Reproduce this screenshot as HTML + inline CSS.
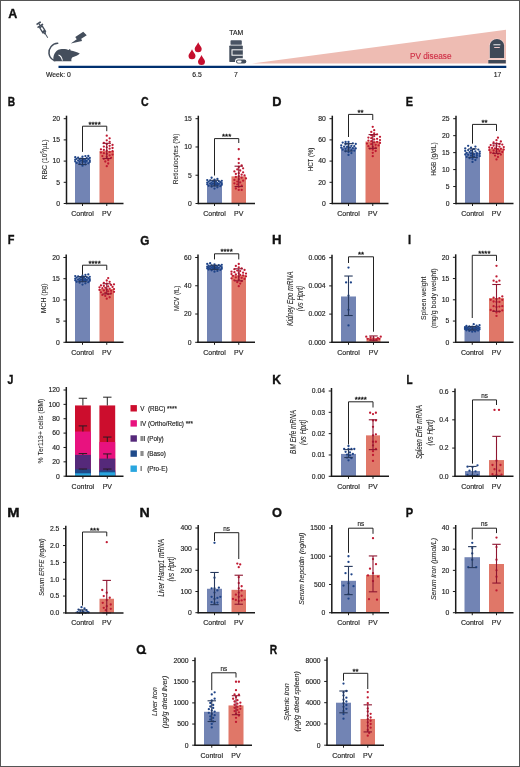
<!DOCTYPE html>
<html><head><meta charset="utf-8"><style>
html,body{margin:0;padding:0;background:#fff;}
body{width:520px;height:767px;overflow:hidden;font-family:"Liberation Sans",sans-serif;}
svg{display:block;will-change:transform;}
</style></head><body>
<svg width="520" height="767" viewBox="0 0 520 767" font-family="Liberation Sans, sans-serif">
<rect width="520" height="767" fill="#fff"/>
<text transform="translate(8.20,18.30) scale(1.000,1)" font-size="12.5" font-weight="bold" fill="#111" stroke="#111" stroke-width="0.35">A</text>
<text transform="translate(7.85,105.60) scale(0.818,1)" font-size="12.5" font-weight="bold" fill="#111" stroke="#111" stroke-width="0.35">B</text>
<text transform="translate(140.98,105.60) scale(0.848,1)" font-size="12.5" font-weight="bold" fill="#111" stroke="#111" stroke-width="0.35">C</text>
<text transform="translate(272.18,105.50) scale(1.026,1)" font-size="12.5" font-weight="bold" fill="#111" stroke="#111" stroke-width="0.35">D</text>
<text transform="translate(405.80,105.50) scale(0.871,1)" font-size="12.5" font-weight="bold" fill="#111" stroke="#111" stroke-width="0.35">E</text>
<text transform="translate(7.80,244.40) scale(0.875,1)" font-size="12.5" font-weight="bold" fill="#111" stroke="#111" stroke-width="0.35">F</text>
<text transform="translate(140.33,244.50) scale(0.940,1)" font-size="12.5" font-weight="bold" fill="#111" stroke="#111" stroke-width="0.35">G</text>
<text transform="translate(272.06,244.40) scale(1.054,1)" font-size="12.5" font-weight="bold" fill="#111" stroke="#111" stroke-width="0.35">H</text>
<text transform="translate(407.89,244.40) scale(0.889,1)" font-size="12.5" font-weight="bold" fill="#111" stroke="#111" stroke-width="0.35">I</text>
<text transform="translate(7.53,383.60) scale(0.847,1)" font-size="12.5" font-weight="bold" fill="#111" stroke="#111" stroke-width="0.35">J</text>
<text transform="translate(272.22,383.60) scale(0.975,1)" font-size="12.5" font-weight="bold" fill="#111" stroke="#111" stroke-width="0.35">K</text>
<text transform="translate(406.56,383.60) scale(0.800,1)" font-size="12.5" font-weight="bold" fill="#111" stroke="#111" stroke-width="0.35">L</text>
<text transform="translate(7.25,516.80) scale(1.182,1)" font-size="12.5" font-weight="bold" fill="#111" stroke="#111" stroke-width="0.35">M</text>
<text transform="translate(139.49,516.60) scale(1.135,1)" font-size="12.5" font-weight="bold" fill="#111" stroke="#111" stroke-width="0.35">N</text>
<text transform="translate(271.99,516.80) scale(1.023,1)" font-size="12.5" font-weight="bold" fill="#111" stroke="#111" stroke-width="0.35">O</text>
<text transform="translate(405.69,516.60) scale(0.887,1)" font-size="12.5" font-weight="bold" fill="#111" stroke="#111" stroke-width="0.35">P</text>
<path d="M141.60,652.70 L146.30,653.50" stroke="#111" stroke-width="1.7"/>
<text transform="translate(136.22,653.80) scale(0.966,1)" font-size="12.5" font-weight="bold" fill="#111" stroke="#111" stroke-width="0.35">O</text>
<text transform="translate(269.84,653.80) scale(0.823,1)" font-size="12.5" font-weight="bold" fill="#111" stroke="#111" stroke-width="0.35">R</text>
<polygon points="252,63.6 506,29.8 506,63.6" fill="#eebcb3"/>
<text x="410.00" y="58.60" font-size="8.5" text-anchor="start" fill="#cf2e45" stroke="#cf2e45" stroke-width="0.15" textLength="41.5" lengthAdjust="spacingAndGlyphs" >PV disease</text>
<line x1="58.5" y1="66.9" x2="506.3" y2="66.9" stroke="#003070" stroke-width="2.1"/>
<text x="58.30" y="77.30" font-size="6.8" text-anchor="middle" fill="#222" stroke="#222" stroke-width="0.15" >Week: 0</text>
<text x="197.00" y="77.20" font-size="6.8" text-anchor="middle" fill="#222" stroke="#222" stroke-width="0.15" >6.5</text>
<text x="235.80" y="77.20" font-size="6.8" text-anchor="middle" fill="#222" stroke="#222" stroke-width="0.15" >7</text>
<text x="497.50" y="77.20" font-size="6.8" text-anchor="middle" fill="#222" stroke="#222" stroke-width="0.15" >17</text>
<text x="236.20" y="35.00" font-size="6.8" text-anchor="middle" fill="#222" stroke="#222" stroke-width="0.15" >TAM</text>
<path d="M198.2,42.3 C199.0,44.8 201.7,46.699999999999996 201.7,48.8 A3.5,3.5 0 0 1 194.7,48.8 C194.7,46.699999999999996 197.39999999999998,44.8 198.2,42.3 Z" fill="#c50f2e"/>
<path d="M192,49.2 C192.8,51.7 195.5,53.6 195.5,55.7 A3.5,3.5 0 0 1 188.5,55.7 C188.5,53.6 191.2,51.7 192,49.2 Z" fill="#c50f2e"/>
<path d="M201.5,55 C202.3,57.5 205.0,59.4 205.0,61.5 A3.5,3.5 0 0 1 198.0,61.5 C198.0,59.4 200.7,57.5 201.5,55 Z" fill="#c50f2e"/>
<rect x="230.5" y="40.2" width="11.3" height="4.6" rx="0.9" fill="#4a5464"/>
<rect x="229.3" y="45.4" width="13.5" height="16.7" rx="0.9" fill="#444e5c"/>
<rect x="231.5" y="49.3" width="11.3" height="6.4" fill="#fff"/>
<rect x="232.5" y="50.3" width="10.3" height="4.4" fill="#444e5c"/>
<rect x="235" y="58.3" width="12.4" height="6.3" rx="3.15" fill="#fff"/>
<rect x="236" y="59.6" width="10.3" height="4" rx="2" fill="#444e5c"/>
<rect x="237" y="60.5" width="4.6" height="2.2" rx="1.1" fill="#fff"/>
<path d="M489.3,58.6 V45.5 A7.65,7 0 0 1 504.6,45.5 V58.6 Z" fill="#f6dcd8"/>
<rect x="487.9" y="59.5" width="18.3" height="4.3" fill="#f6dcd8"/>
<path d="M489.8,58 V45.5 A7.15,6.5 0 0 1 504.1,45.5 V58 Z" fill="#3f4957"/>
<rect x="488.3" y="60" width="17.5" height="3.4" fill="#3f4957"/>
<rect x="493.4" y="44.2" width="7" height="1.1" fill="#e0e0e4"/>
<rect x="494.2" y="47" width="5.6" height="1" fill="#f0c8c8"/>
<g transform="translate(42.95,30.1) rotate(-32)" fill="#444e5c"><rect x="-2.5" y="-9" width="5" height="1.7" rx="0.3"/><rect x="-0.6" y="-7.5" width="1.2" height="1.9"/><rect x="-3.25" y="-5.8" width="6.5" height="1.6" rx="0.3"/><path d="M-2.2,-4.3 h4.4 v7.3 h-4.4 z M-0.8,-3.1 v3.6 h1.6 v-3.6 z" fill-rule="evenodd"/><path d="M-1.4,2.9 h2.8 l-0.6,1.7 h-1.6 z"/><rect x="-0.45" y="4.4" width="0.9" height="4.6"/></g>
<path d="M83.25,31.75 L86.75,35.25 L81.25,38.75 L82,41 L70.75,43.5 L76.75,39.25 L75.25,37 Z" fill="#444e5c"/>
<path d="M57.7,43.3 C52,43.6 48.5,48.5 49,53.5 C49.4,57 51.5,59.5 54.8,60.6" fill="none" stroke="#444e5c" stroke-width="1.55" stroke-linecap="round"/>
<path d="M53.6,61.2 C52.6,56 54.8,50.4 60.2,49.3 C64,48.6 67,49.4 69,50 L69.3,48.9 L70.4,49.4 L70.6,50.5 C74,51.2 77,52.3 79.8,53.5 C78,55.3 75.5,56.3 72.5,57.2 C71.5,58.3 71,59.5 71.5,61.2 Z" fill="#444e5c"/>
<path d="M58.6,54.4 C61,55 62.4,57.3 62.9,60.6 L62,60.8 C61.5,58 60.3,56.2 58.4,55.4 Z" fill="#fff"/>
<rect x="75" y="161.52" width="15" height="41.98" fill="#7284b4"/>
<rect x="99.5" y="150.92" width="14.5" height="52.58" fill="#e07768"/>
<circle cx="82.50" cy="165.67" r="1.15" fill="#1f4488"/>
<circle cx="85.40" cy="164.44" r="1.15" fill="#1f4488"/>
<circle cx="79.60" cy="163.77" r="1.15" fill="#1f4488"/>
<circle cx="88.30" cy="163.28" r="1.15" fill="#1f4488"/>
<circle cx="76.70" cy="162.89" r="1.15" fill="#1f4488"/>
<circle cx="82.50" cy="162.55" r="1.15" fill="#1f4488"/>
<circle cx="85.40" cy="162.25" r="1.15" fill="#1f4488"/>
<circle cx="89.75" cy="161.97" r="1.15" fill="#1f4488"/>
<circle cx="79.60" cy="161.71" r="1.15" fill="#1f4488"/>
<circle cx="75.25" cy="161.47" r="1.15" fill="#1f4488"/>
<circle cx="83.95" cy="161.23" r="1.15" fill="#1f4488"/>
<circle cx="86.85" cy="161.01" r="1.15" fill="#1f4488"/>
<circle cx="81.05" cy="160.79" r="1.15" fill="#1f4488"/>
<circle cx="78.15" cy="160.57" r="1.15" fill="#1f4488"/>
<circle cx="89.75" cy="160.36" r="1.15" fill="#1f4488"/>
<circle cx="85.40" cy="160.15" r="1.15" fill="#1f4488"/>
<circle cx="82.50" cy="159.93" r="1.15" fill="#1f4488"/>
<circle cx="75.25" cy="159.72" r="1.15" fill="#1f4488"/>
<circle cx="79.60" cy="159.50" r="1.15" fill="#1f4488"/>
<circle cx="88.30" cy="159.27" r="1.15" fill="#1f4488"/>
<circle cx="83.95" cy="159.04" r="1.15" fill="#1f4488"/>
<circle cx="76.70" cy="158.79" r="1.15" fill="#1f4488"/>
<circle cx="81.05" cy="158.54" r="1.15" fill="#1f4488"/>
<circle cx="86.85" cy="158.26" r="1.15" fill="#1f4488"/>
<circle cx="89.75" cy="157.96" r="1.15" fill="#1f4488"/>
<circle cx="78.15" cy="157.62" r="1.15" fill="#1f4488"/>
<circle cx="75.25" cy="157.22" r="1.15" fill="#1f4488"/>
<circle cx="82.50" cy="156.73" r="1.15" fill="#1f4488"/>
<circle cx="85.40" cy="156.07" r="1.15" fill="#1f4488"/>
<circle cx="88.30" cy="156.01" r="1.15" fill="#1f4488"/>
<line x1="82.5" y1="164.49" x2="82.5" y2="158.56" stroke="#26385c" stroke-width="1.1"/>
<line x1="78.3" y1="164.49" x2="86.7" y2="164.49" stroke="#26385c" stroke-width="1.1"/>
<line x1="78.3" y1="158.56" x2="86.7" y2="158.56" stroke="#26385c" stroke-width="1.1"/>
<circle cx="106.75" cy="166.19" r="1.15" fill="#c01a32"/>
<circle cx="108.20" cy="163.48" r="1.15" fill="#c01a32"/>
<circle cx="105.30" cy="161.48" r="1.15" fill="#c01a32"/>
<circle cx="108.20" cy="160.02" r="1.15" fill="#c01a32"/>
<circle cx="103.85" cy="158.83" r="1.15" fill="#c01a32"/>
<circle cx="111.10" cy="157.81" r="1.15" fill="#c01a32"/>
<circle cx="106.75" cy="156.90" r="1.15" fill="#c01a32"/>
<circle cx="102.40" cy="156.07" r="1.15" fill="#c01a32"/>
<circle cx="109.65" cy="155.30" r="1.15" fill="#c01a32"/>
<circle cx="112.55" cy="154.56" r="1.15" fill="#c01a32"/>
<circle cx="106.75" cy="153.86" r="1.15" fill="#c01a32"/>
<circle cx="103.85" cy="153.19" r="1.15" fill="#c01a32"/>
<circle cx="100.95" cy="152.53" r="1.15" fill="#c01a32"/>
<circle cx="109.65" cy="151.88" r="1.15" fill="#c01a32"/>
<circle cx="112.55" cy="151.24" r="1.15" fill="#c01a32"/>
<circle cx="106.75" cy="150.61" r="1.15" fill="#c01a32"/>
<circle cx="103.85" cy="149.96" r="1.15" fill="#c01a32"/>
<circle cx="100.95" cy="149.32" r="1.15" fill="#c01a32"/>
<circle cx="109.65" cy="148.66" r="1.15" fill="#c01a32"/>
<circle cx="112.55" cy="147.98" r="1.15" fill="#c01a32"/>
<circle cx="106.75" cy="147.28" r="1.15" fill="#c01a32"/>
<circle cx="103.85" cy="146.55" r="1.15" fill="#c01a32"/>
<circle cx="109.65" cy="145.78" r="1.15" fill="#c01a32"/>
<circle cx="112.55" cy="144.94" r="1.15" fill="#c01a32"/>
<circle cx="106.75" cy="144.03" r="1.15" fill="#c01a32"/>
<circle cx="103.85" cy="143.01" r="1.15" fill="#c01a32"/>
<circle cx="109.65" cy="141.83" r="1.15" fill="#c01a32"/>
<circle cx="106.75" cy="140.37" r="1.15" fill="#c01a32"/>
<circle cx="109.65" cy="138.37" r="1.15" fill="#c01a32"/>
<circle cx="106.75" cy="135.66" r="1.15" fill="#c01a32"/>
<line x1="106.75" y1="158.56" x2="106.75" y2="143.29" stroke="#8e1530" stroke-width="1.1"/>
<line x1="102.55" y1="158.56" x2="110.95" y2="158.56" stroke="#8e1530" stroke-width="1.1"/>
<line x1="102.55" y1="143.29" x2="110.95" y2="143.29" stroke="#8e1530" stroke-width="1.1"/>
<line x1="66.5" y1="115.70" x2="66.5" y2="204.15" stroke="#1a1a1a" stroke-width="1.5"/>
<line x1="65.85" y1="203.5" x2="123.5" y2="203.5" stroke="#1a1a1a" stroke-width="1.5"/>
<line x1="63.7" y1="203.50" x2="66.5" y2="203.50" stroke="#1a1a1a" stroke-width="1"/>
<text x="60.10" y="205.80" font-size="6.8" text-anchor="end" fill="#222" stroke="#222" stroke-width="0.15" >0</text>
<line x1="63.7" y1="182.30" x2="66.5" y2="182.30" stroke="#1a1a1a" stroke-width="1"/>
<text x="60.10" y="184.60" font-size="6.8" text-anchor="end" fill="#222" stroke="#222" stroke-width="0.15" >5</text>
<line x1="63.7" y1="161.10" x2="66.5" y2="161.10" stroke="#1a1a1a" stroke-width="1"/>
<text x="60.10" y="163.40" font-size="6.8" text-anchor="end" fill="#222" stroke="#222" stroke-width="0.15" >10</text>
<line x1="63.7" y1="139.90" x2="66.5" y2="139.90" stroke="#1a1a1a" stroke-width="1"/>
<text x="60.10" y="142.20" font-size="6.8" text-anchor="end" fill="#222" stroke="#222" stroke-width="0.15" >15</text>
<line x1="63.7" y1="118.70" x2="66.5" y2="118.70" stroke="#1a1a1a" stroke-width="1"/>
<text x="60.10" y="121.00" font-size="6.8" text-anchor="end" fill="#222" stroke="#222" stroke-width="0.15" >20</text>
<line x1="82.5" y1="203.5" x2="82.5" y2="206.0" stroke="#1a1a1a" stroke-width="1"/>
<line x1="106.75" y1="203.5" x2="106.75" y2="206.0" stroke="#1a1a1a" stroke-width="1"/>
<text x="82.50" y="215.80" font-size="7" text-anchor="middle" fill="#222" stroke="#222" stroke-width="0.15" >Control</text>
<text x="106.75" y="215.80" font-size="7" text-anchor="middle" fill="#222" stroke="#222" stroke-width="0.15" >PV</text>
<polyline points="82.5,151.9 82.5,126.2 106.75,126.2 106.75,131.2" fill="none" stroke="#222" stroke-width="1"/>
<text x="94.62" y="126.70" font-size="7.8" text-anchor="middle" fill="#111" stroke="#111" stroke-width="0.3">****</text>
<text x="0.00" y="0.00" font-size="8.0" text-anchor="middle" fill="#2a2a2a" stroke="#2a2a2a" stroke-width="0.08" textLength="40" lengthAdjust="spacingAndGlyphs" transform="translate(46.70,159.40) rotate(-90)">RBC (10<tspan font-size="4.5" dy="-2.5">6</tspan><tspan dy="2.5">/µL)</tspan></text>
<rect x="207" y="183.15" width="15" height="20.35" fill="#7284b4"/>
<rect x="231.5" y="176.36" width="14.5" height="27.14" fill="#e07768"/>
<circle cx="214.50" cy="188.56" r="1.15" fill="#1f4488"/>
<circle cx="217.40" cy="187.33" r="1.15" fill="#1f4488"/>
<circle cx="211.60" cy="186.67" r="1.15" fill="#1f4488"/>
<circle cx="220.30" cy="186.18" r="1.15" fill="#1f4488"/>
<circle cx="208.70" cy="185.78" r="1.15" fill="#1f4488"/>
<circle cx="214.50" cy="185.44" r="1.15" fill="#1f4488"/>
<circle cx="217.40" cy="185.14" r="1.15" fill="#1f4488"/>
<circle cx="221.75" cy="184.86" r="1.15" fill="#1f4488"/>
<circle cx="211.60" cy="184.61" r="1.15" fill="#1f4488"/>
<circle cx="207.25" cy="184.36" r="1.15" fill="#1f4488"/>
<circle cx="215.95" cy="184.13" r="1.15" fill="#1f4488"/>
<circle cx="218.85" cy="183.90" r="1.15" fill="#1f4488"/>
<circle cx="213.05" cy="183.68" r="1.15" fill="#1f4488"/>
<circle cx="210.15" cy="183.47" r="1.15" fill="#1f4488"/>
<circle cx="221.75" cy="183.25" r="1.15" fill="#1f4488"/>
<circle cx="217.40" cy="183.04" r="1.15" fill="#1f4488"/>
<circle cx="214.50" cy="182.83" r="1.15" fill="#1f4488"/>
<circle cx="207.25" cy="182.61" r="1.15" fill="#1f4488"/>
<circle cx="211.60" cy="182.39" r="1.15" fill="#1f4488"/>
<circle cx="220.30" cy="182.17" r="1.15" fill="#1f4488"/>
<circle cx="215.95" cy="181.93" r="1.15" fill="#1f4488"/>
<circle cx="208.70" cy="181.69" r="1.15" fill="#1f4488"/>
<circle cx="213.05" cy="181.43" r="1.15" fill="#1f4488"/>
<circle cx="218.85" cy="181.15" r="1.15" fill="#1f4488"/>
<circle cx="221.75" cy="180.85" r="1.15" fill="#1f4488"/>
<circle cx="210.15" cy="180.51" r="1.15" fill="#1f4488"/>
<circle cx="207.25" cy="180.12" r="1.15" fill="#1f4488"/>
<circle cx="214.50" cy="179.63" r="1.15" fill="#1f4488"/>
<circle cx="217.40" cy="178.96" r="1.15" fill="#1f4488"/>
<circle cx="211.60" cy="177.73" r="1.15" fill="#1f4488"/>
<line x1="214.5" y1="185.97" x2="214.5" y2="180.32" stroke="#26385c" stroke-width="1.1"/>
<line x1="210.3" y1="185.97" x2="218.7" y2="185.97" stroke="#26385c" stroke-width="1.1"/>
<line x1="210.3" y1="180.32" x2="218.7" y2="180.32" stroke="#26385c" stroke-width="1.1"/>
<circle cx="238.75" cy="189.93" r="1.15" fill="#c01a32"/>
<circle cx="241.65" cy="189.93" r="1.15" fill="#c01a32"/>
<circle cx="235.85" cy="188.50" r="1.15" fill="#c01a32"/>
<circle cx="238.75" cy="186.86" r="1.15" fill="#c01a32"/>
<circle cx="241.65" cy="185.53" r="1.15" fill="#c01a32"/>
<circle cx="237.30" cy="184.38" r="1.15" fill="#c01a32"/>
<circle cx="234.40" cy="183.36" r="1.15" fill="#c01a32"/>
<circle cx="240.20" cy="182.42" r="1.15" fill="#c01a32"/>
<circle cx="237.30" cy="181.55" r="1.15" fill="#c01a32"/>
<circle cx="243.10" cy="180.72" r="1.15" fill="#c01a32"/>
<circle cx="234.40" cy="179.92" r="1.15" fill="#c01a32"/>
<circle cx="238.75" cy="179.15" r="1.15" fill="#c01a32"/>
<circle cx="246.00" cy="178.40" r="1.15" fill="#c01a32"/>
<circle cx="241.65" cy="177.66" r="1.15" fill="#c01a32"/>
<circle cx="235.85" cy="176.93" r="1.15" fill="#c01a32"/>
<circle cx="238.75" cy="176.20" r="1.15" fill="#c01a32"/>
<circle cx="244.55" cy="175.46" r="1.15" fill="#c01a32"/>
<circle cx="241.65" cy="174.71" r="1.15" fill="#c01a32"/>
<circle cx="235.85" cy="173.94" r="1.15" fill="#c01a32"/>
<circle cx="238.75" cy="173.14" r="1.15" fill="#c01a32"/>
<circle cx="243.10" cy="172.31" r="1.15" fill="#c01a32"/>
<circle cx="234.40" cy="171.44" r="1.15" fill="#c01a32"/>
<circle cx="240.20" cy="170.50" r="1.15" fill="#c01a32"/>
<circle cx="237.30" cy="169.47" r="1.15" fill="#c01a32"/>
<circle cx="243.10" cy="168.33" r="1.15" fill="#c01a32"/>
<circle cx="238.75" cy="166.99" r="1.15" fill="#c01a32"/>
<circle cx="241.65" cy="165.36" r="1.15" fill="#c01a32"/>
<circle cx="238.75" cy="163.12" r="1.15" fill="#c01a32"/>
<circle cx="238.75" cy="159.00" r="1.15" fill="#c01a32"/>
<circle cx="238.75" cy="149.23" r="1.15" fill="#c01a32"/>
<line x1="238.75" y1="186.54" x2="238.75" y2="166.19" stroke="#8e1530" stroke-width="1.1"/>
<line x1="234.55" y1="186.54" x2="242.95" y2="186.54" stroke="#8e1530" stroke-width="1.1"/>
<line x1="234.55" y1="166.19" x2="242.95" y2="166.19" stroke="#8e1530" stroke-width="1.1"/>
<line x1="198.3" y1="115.70" x2="198.3" y2="204.15" stroke="#1a1a1a" stroke-width="1.5"/>
<line x1="197.65" y1="203.5" x2="255" y2="203.5" stroke="#1a1a1a" stroke-width="1.5"/>
<line x1="195.5" y1="203.50" x2="198.3" y2="203.50" stroke="#1a1a1a" stroke-width="1"/>
<text x="191.90" y="205.80" font-size="6.8" text-anchor="end" fill="#222" stroke="#222" stroke-width="0.15" >0</text>
<line x1="195.5" y1="175.23" x2="198.3" y2="175.23" stroke="#1a1a1a" stroke-width="1"/>
<text x="191.90" y="177.53" font-size="6.8" text-anchor="end" fill="#222" stroke="#222" stroke-width="0.15" >5</text>
<line x1="195.5" y1="146.97" x2="198.3" y2="146.97" stroke="#1a1a1a" stroke-width="1"/>
<text x="191.90" y="149.27" font-size="6.8" text-anchor="end" fill="#222" stroke="#222" stroke-width="0.15" >10</text>
<line x1="195.5" y1="118.70" x2="198.3" y2="118.70" stroke="#1a1a1a" stroke-width="1"/>
<text x="191.90" y="121.00" font-size="6.8" text-anchor="end" fill="#222" stroke="#222" stroke-width="0.15" >15</text>
<line x1="214.5" y1="203.5" x2="214.5" y2="206.0" stroke="#1a1a1a" stroke-width="1"/>
<line x1="238.75" y1="203.5" x2="238.75" y2="206.0" stroke="#1a1a1a" stroke-width="1"/>
<text x="214.50" y="215.80" font-size="7" text-anchor="middle" fill="#222" stroke="#222" stroke-width="0.15" >Control</text>
<text x="238.75" y="215.80" font-size="7" text-anchor="middle" fill="#222" stroke="#222" stroke-width="0.15" >PV</text>
<polyline points="214.5,175.5 214.5,138.6 238.75,138.6 238.75,143" fill="none" stroke="#222" stroke-width="1"/>
<text x="226.62" y="139.10" font-size="7.8" text-anchor="middle" fill="#111" stroke="#111" stroke-width="0.3">***</text>
<text x="0.00" y="0.00" font-size="8.0" text-anchor="middle" fill="#2a2a2a" stroke="#2a2a2a" stroke-width="0.08" textLength="50.5" lengthAdjust="spacingAndGlyphs" transform="translate(178.00,158.90) rotate(-90)">Reticulocytes (%)</text>
<rect x="341" y="147.32" width="15" height="56.18" fill="#7284b4"/>
<rect x="365.5" y="141.49" width="14.5" height="62.01" fill="#e07768"/>
<circle cx="348.50" cy="154.94" r="1.15" fill="#1f4488"/>
<circle cx="351.40" cy="153.09" r="1.15" fill="#1f4488"/>
<circle cx="348.50" cy="152.07" r="1.15" fill="#1f4488"/>
<circle cx="345.60" cy="151.33" r="1.15" fill="#1f4488"/>
<circle cx="354.30" cy="150.72" r="1.15" fill="#1f4488"/>
<circle cx="351.40" cy="150.18" r="1.15" fill="#1f4488"/>
<circle cx="342.70" cy="149.71" r="1.15" fill="#1f4488"/>
<circle cx="348.50" cy="149.27" r="1.15" fill="#1f4488"/>
<circle cx="345.60" cy="148.85" r="1.15" fill="#1f4488"/>
<circle cx="355.75" cy="148.45" r="1.15" fill="#1f4488"/>
<circle cx="352.85" cy="148.07" r="1.15" fill="#1f4488"/>
<circle cx="341.25" cy="147.69" r="1.15" fill="#1f4488"/>
<circle cx="349.95" cy="147.32" r="1.15" fill="#1f4488"/>
<circle cx="347.05" cy="146.95" r="1.15" fill="#1f4488"/>
<circle cx="344.15" cy="146.57" r="1.15" fill="#1f4488"/>
<circle cx="354.30" cy="146.19" r="1.15" fill="#1f4488"/>
<circle cx="351.40" cy="145.79" r="1.15" fill="#1f4488"/>
<circle cx="341.25" cy="145.37" r="1.15" fill="#1f4488"/>
<circle cx="348.50" cy="144.93" r="1.15" fill="#1f4488"/>
<circle cx="345.60" cy="144.46" r="1.15" fill="#1f4488"/>
<circle cx="355.75" cy="143.92" r="1.15" fill="#1f4488"/>
<circle cx="352.85" cy="143.31" r="1.15" fill="#1f4488"/>
<circle cx="342.70" cy="142.57" r="1.15" fill="#1f4488"/>
<circle cx="348.50" cy="142.02" r="1.15" fill="#1f4488"/>
<circle cx="345.60" cy="142.02" r="1.15" fill="#1f4488"/>
<line x1="348.5" y1="151.03" x2="348.5" y2="143.61" stroke="#26385c" stroke-width="1.1"/>
<line x1="344.3" y1="151.03" x2="352.7" y2="151.03" stroke="#26385c" stroke-width="1.1"/>
<line x1="344.3" y1="143.61" x2="352.7" y2="143.61" stroke="#26385c" stroke-width="1.1"/>
<circle cx="372.75" cy="156.15" r="1.15" fill="#c01a32"/>
<circle cx="372.75" cy="152.82" r="1.15" fill="#c01a32"/>
<circle cx="375.65" cy="151.02" r="1.15" fill="#c01a32"/>
<circle cx="372.75" cy="149.70" r="1.15" fill="#c01a32"/>
<circle cx="369.85" cy="148.63" r="1.15" fill="#c01a32"/>
<circle cx="375.65" cy="147.71" r="1.15" fill="#c01a32"/>
<circle cx="372.75" cy="146.89" r="1.15" fill="#c01a32"/>
<circle cx="368.40" cy="146.14" r="1.15" fill="#c01a32"/>
<circle cx="378.55" cy="145.44" r="1.15" fill="#c01a32"/>
<circle cx="375.65" cy="144.78" r="1.15" fill="#c01a32"/>
<circle cx="371.30" cy="144.14" r="1.15" fill="#c01a32"/>
<circle cx="366.95" cy="143.53" r="1.15" fill="#c01a32"/>
<circle cx="380.00" cy="142.94" r="1.15" fill="#c01a32"/>
<circle cx="374.20" cy="142.36" r="1.15" fill="#c01a32"/>
<circle cx="377.10" cy="141.78" r="1.15" fill="#c01a32"/>
<circle cx="371.30" cy="141.20" r="1.15" fill="#c01a32"/>
<circle cx="368.40" cy="140.62" r="1.15" fill="#c01a32"/>
<circle cx="380.00" cy="140.04" r="1.15" fill="#c01a32"/>
<circle cx="374.20" cy="139.45" r="1.15" fill="#c01a32"/>
<circle cx="377.10" cy="138.84" r="1.15" fill="#c01a32"/>
<circle cx="371.30" cy="138.20" r="1.15" fill="#c01a32"/>
<circle cx="368.40" cy="137.54" r="1.15" fill="#c01a32"/>
<circle cx="380.00" cy="136.84" r="1.15" fill="#c01a32"/>
<circle cx="374.20" cy="136.09" r="1.15" fill="#c01a32"/>
<circle cx="371.30" cy="135.27" r="1.15" fill="#c01a32"/>
<circle cx="377.10" cy="134.35" r="1.15" fill="#c01a32"/>
<circle cx="374.20" cy="133.28" r="1.15" fill="#c01a32"/>
<circle cx="371.30" cy="131.96" r="1.15" fill="#c01a32"/>
<circle cx="374.20" cy="130.16" r="1.15" fill="#c01a32"/>
<circle cx="372.75" cy="126.83" r="1.15" fill="#c01a32"/>
<line x1="372.75" y1="148.38" x2="372.75" y2="134.60" stroke="#8e1530" stroke-width="1.1"/>
<line x1="368.55" y1="148.38" x2="376.95" y2="148.38" stroke="#8e1530" stroke-width="1.1"/>
<line x1="368.55" y1="134.60" x2="376.95" y2="134.60" stroke="#8e1530" stroke-width="1.1"/>
<line x1="332.3" y1="115.70" x2="332.3" y2="204.15" stroke="#1a1a1a" stroke-width="1.5"/>
<line x1="331.65000000000003" y1="203.5" x2="388.5" y2="203.5" stroke="#1a1a1a" stroke-width="1.5"/>
<line x1="329.5" y1="203.50" x2="332.3" y2="203.50" stroke="#1a1a1a" stroke-width="1"/>
<text x="325.90" y="205.80" font-size="6.8" text-anchor="end" fill="#222" stroke="#222" stroke-width="0.15" >0</text>
<line x1="329.5" y1="182.30" x2="332.3" y2="182.30" stroke="#1a1a1a" stroke-width="1"/>
<text x="325.90" y="184.60" font-size="6.8" text-anchor="end" fill="#222" stroke="#222" stroke-width="0.15" >20</text>
<line x1="329.5" y1="161.10" x2="332.3" y2="161.10" stroke="#1a1a1a" stroke-width="1"/>
<text x="325.90" y="163.40" font-size="6.8" text-anchor="end" fill="#222" stroke="#222" stroke-width="0.15" >40</text>
<line x1="329.5" y1="139.90" x2="332.3" y2="139.90" stroke="#1a1a1a" stroke-width="1"/>
<text x="325.90" y="142.20" font-size="6.8" text-anchor="end" fill="#222" stroke="#222" stroke-width="0.15" >60</text>
<line x1="329.5" y1="118.70" x2="332.3" y2="118.70" stroke="#1a1a1a" stroke-width="1"/>
<text x="325.90" y="121.00" font-size="6.8" text-anchor="end" fill="#222" stroke="#222" stroke-width="0.15" >80</text>
<line x1="348.5" y1="203.5" x2="348.5" y2="206.0" stroke="#1a1a1a" stroke-width="1"/>
<line x1="372.75" y1="203.5" x2="372.75" y2="206.0" stroke="#1a1a1a" stroke-width="1"/>
<text x="348.50" y="215.80" font-size="7" text-anchor="middle" fill="#222" stroke="#222" stroke-width="0.15" >Control</text>
<text x="372.75" y="215.80" font-size="7" text-anchor="middle" fill="#222" stroke="#222" stroke-width="0.15" >PV</text>
<polyline points="348.5,137 348.5,114.4 372.75,114.4 372.75,120" fill="none" stroke="#222" stroke-width="1"/>
<text x="360.62" y="114.90" font-size="7.8" text-anchor="middle" fill="#111" stroke="#111" stroke-width="0.3">**</text>
<text x="0.00" y="0.00" font-size="8.0" text-anchor="middle" fill="#2a2a2a" stroke="#2a2a2a" stroke-width="0.08" textLength="23.5" lengthAdjust="spacingAndGlyphs" transform="translate(312.60,159.40) rotate(-90)">HCT (%)</text>
<rect x="465" y="152.62" width="15" height="50.88" fill="#7284b4"/>
<rect x="489" y="148.55" width="15" height="54.95" fill="#e07768"/>
<circle cx="472.50" cy="161.96" r="1.15" fill="#1f4488"/>
<circle cx="475.40" cy="159.99" r="1.15" fill="#1f4488"/>
<circle cx="472.50" cy="158.93" r="1.15" fill="#1f4488"/>
<circle cx="469.60" cy="158.15" r="1.15" fill="#1f4488"/>
<circle cx="476.85" cy="157.52" r="1.15" fill="#1f4488"/>
<circle cx="466.70" cy="156.97" r="1.15" fill="#1f4488"/>
<circle cx="473.95" cy="156.49" r="1.15" fill="#1f4488"/>
<circle cx="479.75" cy="156.04" r="1.15" fill="#1f4488"/>
<circle cx="471.05" cy="155.63" r="1.15" fill="#1f4488"/>
<circle cx="476.85" cy="155.24" r="1.15" fill="#1f4488"/>
<circle cx="468.15" cy="154.87" r="1.15" fill="#1f4488"/>
<circle cx="465.25" cy="154.51" r="1.15" fill="#1f4488"/>
<circle cx="473.95" cy="154.15" r="1.15" fill="#1f4488"/>
<circle cx="479.75" cy="153.81" r="1.15" fill="#1f4488"/>
<circle cx="471.05" cy="153.47" r="1.15" fill="#1f4488"/>
<circle cx="476.85" cy="153.13" r="1.15" fill="#1f4488"/>
<circle cx="466.70" cy="152.79" r="1.15" fill="#1f4488"/>
<circle cx="472.50" cy="152.44" r="1.15" fill="#1f4488"/>
<circle cx="469.60" cy="152.09" r="1.15" fill="#1f4488"/>
<circle cx="479.75" cy="151.73" r="1.15" fill="#1f4488"/>
<circle cx="475.40" cy="151.36" r="1.15" fill="#1f4488"/>
<circle cx="465.25" cy="150.97" r="1.15" fill="#1f4488"/>
<circle cx="471.05" cy="150.55" r="1.15" fill="#1f4488"/>
<circle cx="468.15" cy="150.11" r="1.15" fill="#1f4488"/>
<circle cx="478.30" cy="149.62" r="1.15" fill="#1f4488"/>
<circle cx="473.95" cy="149.08" r="1.15" fill="#1f4488"/>
<circle cx="465.25" cy="148.45" r="1.15" fill="#1f4488"/>
<circle cx="471.05" cy="147.67" r="1.15" fill="#1f4488"/>
<circle cx="475.40" cy="146.60" r="1.15" fill="#1f4488"/>
<circle cx="468.15" cy="145.84" r="1.15" fill="#1f4488"/>
<line x1="472.5" y1="157.37" x2="472.5" y2="148.89" stroke="#26385c" stroke-width="1.1"/>
<line x1="468.3" y1="157.37" x2="476.7" y2="157.37" stroke="#26385c" stroke-width="1.1"/>
<line x1="468.3" y1="148.89" x2="476.7" y2="148.89" stroke="#26385c" stroke-width="1.1"/>
<circle cx="496.50" cy="159.38" r="1.15" fill="#c01a32"/>
<circle cx="497.95" cy="156.92" r="1.15" fill="#c01a32"/>
<circle cx="495.05" cy="155.59" r="1.15" fill="#c01a32"/>
<circle cx="500.85" cy="154.61" r="1.15" fill="#c01a32"/>
<circle cx="497.95" cy="153.82" r="1.15" fill="#c01a32"/>
<circle cx="493.60" cy="153.14" r="1.15" fill="#c01a32"/>
<circle cx="490.70" cy="152.54" r="1.15" fill="#c01a32"/>
<circle cx="502.30" cy="151.98" r="1.15" fill="#c01a32"/>
<circle cx="496.50" cy="151.46" r="1.15" fill="#c01a32"/>
<circle cx="499.40" cy="150.98" r="1.15" fill="#c01a32"/>
<circle cx="493.60" cy="150.51" r="1.15" fill="#c01a32"/>
<circle cx="489.25" cy="150.06" r="1.15" fill="#c01a32"/>
<circle cx="503.75" cy="149.62" r="1.15" fill="#c01a32"/>
<circle cx="497.95" cy="149.19" r="1.15" fill="#c01a32"/>
<circle cx="500.85" cy="148.76" r="1.15" fill="#c01a32"/>
<circle cx="495.05" cy="148.34" r="1.15" fill="#c01a32"/>
<circle cx="492.15" cy="147.91" r="1.15" fill="#c01a32"/>
<circle cx="489.25" cy="147.48" r="1.15" fill="#c01a32"/>
<circle cx="503.75" cy="147.04" r="1.15" fill="#c01a32"/>
<circle cx="499.40" cy="146.59" r="1.15" fill="#c01a32"/>
<circle cx="496.50" cy="146.12" r="1.15" fill="#c01a32"/>
<circle cx="493.60" cy="145.63" r="1.15" fill="#c01a32"/>
<circle cx="490.70" cy="145.12" r="1.15" fill="#c01a32"/>
<circle cx="502.30" cy="144.56" r="1.15" fill="#c01a32"/>
<circle cx="499.40" cy="143.96" r="1.15" fill="#c01a32"/>
<circle cx="496.50" cy="143.28" r="1.15" fill="#c01a32"/>
<circle cx="493.60" cy="142.49" r="1.15" fill="#c01a32"/>
<circle cx="500.85" cy="141.51" r="1.15" fill="#c01a32"/>
<circle cx="496.50" cy="140.18" r="1.15" fill="#c01a32"/>
<circle cx="497.95" cy="137.72" r="1.15" fill="#c01a32"/>
<line x1="496.5" y1="153.30" x2="496.5" y2="143.80" stroke="#8e1530" stroke-width="1.1"/>
<line x1="492.3" y1="153.30" x2="500.7" y2="153.30" stroke="#8e1530" stroke-width="1.1"/>
<line x1="492.3" y1="143.80" x2="500.7" y2="143.80" stroke="#8e1530" stroke-width="1.1"/>
<line x1="456" y1="115.70" x2="456" y2="204.15" stroke="#1a1a1a" stroke-width="1.5"/>
<line x1="455.35" y1="203.5" x2="513.5" y2="203.5" stroke="#1a1a1a" stroke-width="1.5"/>
<line x1="453.2" y1="203.50" x2="456" y2="203.50" stroke="#1a1a1a" stroke-width="1"/>
<text x="449.60" y="205.80" font-size="6.8" text-anchor="end" fill="#222" stroke="#222" stroke-width="0.15" >0</text>
<line x1="453.2" y1="186.54" x2="456" y2="186.54" stroke="#1a1a1a" stroke-width="1"/>
<text x="449.60" y="188.84" font-size="6.8" text-anchor="end" fill="#222" stroke="#222" stroke-width="0.15" >5</text>
<line x1="453.2" y1="169.58" x2="456" y2="169.58" stroke="#1a1a1a" stroke-width="1"/>
<text x="449.60" y="171.88" font-size="6.8" text-anchor="end" fill="#222" stroke="#222" stroke-width="0.15" >10</text>
<line x1="453.2" y1="152.62" x2="456" y2="152.62" stroke="#1a1a1a" stroke-width="1"/>
<text x="449.60" y="154.92" font-size="6.8" text-anchor="end" fill="#222" stroke="#222" stroke-width="0.15" >15</text>
<line x1="453.2" y1="135.66" x2="456" y2="135.66" stroke="#1a1a1a" stroke-width="1"/>
<text x="449.60" y="137.96" font-size="6.8" text-anchor="end" fill="#222" stroke="#222" stroke-width="0.15" >20</text>
<line x1="453.2" y1="118.70" x2="456" y2="118.70" stroke="#1a1a1a" stroke-width="1"/>
<text x="449.60" y="121.00" font-size="6.8" text-anchor="end" fill="#222" stroke="#222" stroke-width="0.15" >25</text>
<line x1="472.5" y1="203.5" x2="472.5" y2="206.0" stroke="#1a1a1a" stroke-width="1"/>
<line x1="496.5" y1="203.5" x2="496.5" y2="206.0" stroke="#1a1a1a" stroke-width="1"/>
<text x="472.50" y="215.80" font-size="7" text-anchor="middle" fill="#222" stroke="#222" stroke-width="0.15" >Control</text>
<text x="496.50" y="215.80" font-size="7" text-anchor="middle" fill="#222" stroke="#222" stroke-width="0.15" >PV</text>
<polyline points="472.5,143.7 472.5,124.4 496.5,124.4 496.5,131" fill="none" stroke="#222" stroke-width="1"/>
<text x="484.50" y="124.90" font-size="7.8" text-anchor="middle" fill="#111" stroke="#111" stroke-width="0.3">**</text>
<text x="0.00" y="0.00" font-size="8.0" text-anchor="middle" fill="#2a2a2a" stroke="#2a2a2a" stroke-width="0.08" textLength="33.4" lengthAdjust="spacingAndGlyphs" transform="translate(436.00,159.10) rotate(-90)">HGB (g/dL)</text>
<rect x="75" y="279.12" width="15" height="63.18" fill="#7284b4"/>
<rect x="99.5" y="288.88" width="14.5" height="53.42" fill="#e07768"/>
<circle cx="82.50" cy="284.54" r="1.15" fill="#1f4488"/>
<circle cx="85.40" cy="283.31" r="1.15" fill="#1f4488"/>
<circle cx="79.60" cy="282.64" r="1.15" fill="#1f4488"/>
<circle cx="88.30" cy="282.16" r="1.15" fill="#1f4488"/>
<circle cx="76.70" cy="281.76" r="1.15" fill="#1f4488"/>
<circle cx="82.50" cy="281.42" r="1.15" fill="#1f4488"/>
<circle cx="85.40" cy="281.12" r="1.15" fill="#1f4488"/>
<circle cx="89.75" cy="280.84" r="1.15" fill="#1f4488"/>
<circle cx="79.60" cy="280.58" r="1.15" fill="#1f4488"/>
<circle cx="75.25" cy="280.34" r="1.15" fill="#1f4488"/>
<circle cx="83.95" cy="280.10" r="1.15" fill="#1f4488"/>
<circle cx="86.85" cy="279.88" r="1.15" fill="#1f4488"/>
<circle cx="81.05" cy="279.66" r="1.15" fill="#1f4488"/>
<circle cx="78.15" cy="279.44" r="1.15" fill="#1f4488"/>
<circle cx="89.75" cy="279.23" r="1.15" fill="#1f4488"/>
<circle cx="85.40" cy="279.02" r="1.15" fill="#1f4488"/>
<circle cx="82.50" cy="278.80" r="1.15" fill="#1f4488"/>
<circle cx="75.25" cy="278.59" r="1.15" fill="#1f4488"/>
<circle cx="79.60" cy="278.37" r="1.15" fill="#1f4488"/>
<circle cx="88.30" cy="278.14" r="1.15" fill="#1f4488"/>
<circle cx="83.95" cy="277.91" r="1.15" fill="#1f4488"/>
<circle cx="76.70" cy="277.67" r="1.15" fill="#1f4488"/>
<circle cx="81.05" cy="277.41" r="1.15" fill="#1f4488"/>
<circle cx="86.85" cy="277.13" r="1.15" fill="#1f4488"/>
<circle cx="89.75" cy="276.83" r="1.15" fill="#1f4488"/>
<circle cx="78.15" cy="276.49" r="1.15" fill="#1f4488"/>
<circle cx="75.25" cy="276.09" r="1.15" fill="#1f4488"/>
<circle cx="82.50" cy="275.61" r="1.15" fill="#1f4488"/>
<circle cx="85.40" cy="274.94" r="1.15" fill="#1f4488"/>
<circle cx="88.30" cy="274.46" r="1.15" fill="#1f4488"/>
<line x1="82.5" y1="281.67" x2="82.5" y2="276.58" stroke="#26385c" stroke-width="1.1"/>
<line x1="78.3" y1="281.67" x2="86.7" y2="281.67" stroke="#26385c" stroke-width="1.1"/>
<line x1="78.3" y1="276.58" x2="86.7" y2="276.58" stroke="#26385c" stroke-width="1.1"/>
<circle cx="106.75" cy="298.63" r="1.15" fill="#c01a32"/>
<circle cx="109.65" cy="297.25" r="1.15" fill="#c01a32"/>
<circle cx="105.30" cy="295.91" r="1.15" fill="#c01a32"/>
<circle cx="102.40" cy="294.94" r="1.15" fill="#c01a32"/>
<circle cx="108.20" cy="294.15" r="1.15" fill="#c01a32"/>
<circle cx="111.10" cy="293.47" r="1.15" fill="#c01a32"/>
<circle cx="105.30" cy="292.86" r="1.15" fill="#c01a32"/>
<circle cx="100.95" cy="292.31" r="1.15" fill="#c01a32"/>
<circle cx="114.00" cy="291.79" r="1.15" fill="#c01a32"/>
<circle cx="108.20" cy="291.30" r="1.15" fill="#c01a32"/>
<circle cx="111.10" cy="290.84" r="1.15" fill="#c01a32"/>
<circle cx="103.85" cy="290.39" r="1.15" fill="#c01a32"/>
<circle cx="99.50" cy="289.95" r="1.15" fill="#c01a32"/>
<circle cx="106.75" cy="289.52" r="1.15" fill="#c01a32"/>
<circle cx="114.00" cy="289.09" r="1.15" fill="#c01a32"/>
<circle cx="109.65" cy="288.66" r="1.15" fill="#c01a32"/>
<circle cx="102.40" cy="288.24" r="1.15" fill="#c01a32"/>
<circle cx="105.30" cy="287.81" r="1.15" fill="#c01a32"/>
<circle cx="99.50" cy="287.37" r="1.15" fill="#c01a32"/>
<circle cx="112.55" cy="286.92" r="1.15" fill="#c01a32"/>
<circle cx="108.20" cy="286.45" r="1.15" fill="#c01a32"/>
<circle cx="103.85" cy="285.96" r="1.15" fill="#c01a32"/>
<circle cx="100.95" cy="285.44" r="1.15" fill="#c01a32"/>
<circle cx="111.10" cy="284.89" r="1.15" fill="#c01a32"/>
<circle cx="114.00" cy="284.28" r="1.15" fill="#c01a32"/>
<circle cx="106.75" cy="283.60" r="1.15" fill="#c01a32"/>
<circle cx="103.85" cy="282.81" r="1.15" fill="#c01a32"/>
<circle cx="109.65" cy="281.84" r="1.15" fill="#c01a32"/>
<circle cx="106.75" cy="280.51" r="1.15" fill="#c01a32"/>
<circle cx="108.20" cy="278.05" r="1.15" fill="#c01a32"/>
<line x1="106.75" y1="293.96" x2="106.75" y2="283.79" stroke="#8e1530" stroke-width="1.1"/>
<line x1="102.55" y1="293.96" x2="110.95" y2="293.96" stroke="#8e1530" stroke-width="1.1"/>
<line x1="102.55" y1="283.79" x2="110.95" y2="283.79" stroke="#8e1530" stroke-width="1.1"/>
<line x1="66.2" y1="254.50" x2="66.2" y2="342.95" stroke="#1a1a1a" stroke-width="1.5"/>
<line x1="65.55" y1="342.3" x2="123.5" y2="342.3" stroke="#1a1a1a" stroke-width="1.5"/>
<line x1="63.400000000000006" y1="342.30" x2="66.2" y2="342.30" stroke="#1a1a1a" stroke-width="1"/>
<text x="59.80" y="344.60" font-size="6.8" text-anchor="end" fill="#222" stroke="#222" stroke-width="0.15" >0</text>
<line x1="63.400000000000006" y1="321.10" x2="66.2" y2="321.10" stroke="#1a1a1a" stroke-width="1"/>
<text x="59.80" y="323.40" font-size="6.8" text-anchor="end" fill="#222" stroke="#222" stroke-width="0.15" >5</text>
<line x1="63.400000000000006" y1="299.90" x2="66.2" y2="299.90" stroke="#1a1a1a" stroke-width="1"/>
<text x="59.80" y="302.20" font-size="6.8" text-anchor="end" fill="#222" stroke="#222" stroke-width="0.15" >10</text>
<line x1="63.400000000000006" y1="278.70" x2="66.2" y2="278.70" stroke="#1a1a1a" stroke-width="1"/>
<text x="59.80" y="281.00" font-size="6.8" text-anchor="end" fill="#222" stroke="#222" stroke-width="0.15" >15</text>
<line x1="63.400000000000006" y1="257.50" x2="66.2" y2="257.50" stroke="#1a1a1a" stroke-width="1"/>
<text x="59.80" y="259.80" font-size="6.8" text-anchor="end" fill="#222" stroke="#222" stroke-width="0.15" >20</text>
<line x1="82.5" y1="342.3" x2="82.5" y2="344.8" stroke="#1a1a1a" stroke-width="1"/>
<line x1="106.75" y1="342.3" x2="106.75" y2="344.8" stroke="#1a1a1a" stroke-width="1"/>
<text x="82.50" y="354.60" font-size="7" text-anchor="middle" fill="#222" stroke="#222" stroke-width="0.15" >Control</text>
<text x="106.75" y="354.60" font-size="7" text-anchor="middle" fill="#222" stroke="#222" stroke-width="0.15" >PV</text>
<polyline points="82.5,274.8 82.5,265.2 106.75,265.2 106.75,270" fill="none" stroke="#222" stroke-width="1"/>
<text x="94.62" y="265.70" font-size="7.8" text-anchor="middle" fill="#111" stroke="#111" stroke-width="0.3">****</text>
<text x="0.00" y="0.00" font-size="8.0" text-anchor="middle" fill="#2a2a2a" stroke="#2a2a2a" stroke-width="0.08" textLength="29.7" lengthAdjust="spacingAndGlyphs" transform="translate(46.20,298.40) rotate(-90)">MCH (pg)</text>
<rect x="207" y="267.39" width="15" height="74.91" fill="#7284b4"/>
<rect x="231.5" y="275.17" width="14.5" height="67.13" fill="#e07768"/>
<circle cx="214.50" cy="271.63" r="1.15" fill="#1f4488"/>
<circle cx="217.40" cy="270.88" r="1.15" fill="#1f4488"/>
<circle cx="211.60" cy="270.33" r="1.15" fill="#1f4488"/>
<circle cx="220.30" cy="269.92" r="1.15" fill="#1f4488"/>
<circle cx="208.70" cy="269.59" r="1.15" fill="#1f4488"/>
<circle cx="214.50" cy="269.31" r="1.15" fill="#1f4488"/>
<circle cx="217.40" cy="269.05" r="1.15" fill="#1f4488"/>
<circle cx="221.75" cy="268.82" r="1.15" fill="#1f4488"/>
<circle cx="210.15" cy="268.61" r="1.15" fill="#1f4488"/>
<circle cx="207.25" cy="268.40" r="1.15" fill="#1f4488"/>
<circle cx="213.05" cy="268.21" r="1.15" fill="#1f4488"/>
<circle cx="215.95" cy="268.02" r="1.15" fill="#1f4488"/>
<circle cx="218.85" cy="267.84" r="1.15" fill="#1f4488"/>
<circle cx="208.70" cy="267.66" r="1.15" fill="#1f4488"/>
<circle cx="211.60" cy="267.48" r="1.15" fill="#1f4488"/>
<circle cx="214.50" cy="267.30" r="1.15" fill="#1f4488"/>
<circle cx="221.75" cy="267.13" r="1.15" fill="#1f4488"/>
<circle cx="217.40" cy="266.95" r="1.15" fill="#1f4488"/>
<circle cx="207.25" cy="266.76" r="1.15" fill="#1f4488"/>
<circle cx="210.15" cy="266.58" r="1.15" fill="#1f4488"/>
<circle cx="213.05" cy="266.38" r="1.15" fill="#1f4488"/>
<circle cx="220.30" cy="266.18" r="1.15" fill="#1f4488"/>
<circle cx="215.95" cy="265.96" r="1.15" fill="#1f4488"/>
<circle cx="208.70" cy="265.73" r="1.15" fill="#1f4488"/>
<circle cx="211.60" cy="265.48" r="1.15" fill="#1f4488"/>
<circle cx="218.85" cy="265.20" r="1.15" fill="#1f4488"/>
<circle cx="221.75" cy="264.87" r="1.15" fill="#1f4488"/>
<circle cx="214.50" cy="264.46" r="1.15" fill="#1f4488"/>
<circle cx="207.25" cy="263.91" r="1.15" fill="#1f4488"/>
<circle cx="210.15" cy="263.15" r="1.15" fill="#1f4488"/>
<line x1="214.5" y1="269.51" x2="214.5" y2="265.27" stroke="#26385c" stroke-width="1.1"/>
<line x1="210.3" y1="269.51" x2="218.7" y2="269.51" stroke="#26385c" stroke-width="1.1"/>
<line x1="210.3" y1="265.27" x2="218.7" y2="265.27" stroke="#26385c" stroke-width="1.1"/>
<circle cx="238.75" cy="286.17" r="1.15" fill="#c01a32"/>
<circle cx="240.20" cy="283.58" r="1.15" fill="#c01a32"/>
<circle cx="237.30" cy="282.17" r="1.15" fill="#c01a32"/>
<circle cx="241.65" cy="281.14" r="1.15" fill="#c01a32"/>
<circle cx="234.40" cy="280.31" r="1.15" fill="#c01a32"/>
<circle cx="238.75" cy="279.59" r="1.15" fill="#c01a32"/>
<circle cx="244.55" cy="278.95" r="1.15" fill="#c01a32"/>
<circle cx="231.50" cy="278.37" r="1.15" fill="#c01a32"/>
<circle cx="241.65" cy="277.82" r="1.15" fill="#c01a32"/>
<circle cx="235.85" cy="277.30" r="1.15" fill="#c01a32"/>
<circle cx="238.75" cy="276.81" r="1.15" fill="#c01a32"/>
<circle cx="246.00" cy="276.34" r="1.15" fill="#c01a32"/>
<circle cx="232.95" cy="275.87" r="1.15" fill="#c01a32"/>
<circle cx="243.10" cy="275.42" r="1.15" fill="#c01a32"/>
<circle cx="240.20" cy="274.97" r="1.15" fill="#c01a32"/>
<circle cx="235.85" cy="274.52" r="1.15" fill="#c01a32"/>
<circle cx="231.50" cy="274.07" r="1.15" fill="#c01a32"/>
<circle cx="246.00" cy="273.61" r="1.15" fill="#c01a32"/>
<circle cx="238.75" cy="273.15" r="1.15" fill="#c01a32"/>
<circle cx="243.10" cy="272.67" r="1.15" fill="#c01a32"/>
<circle cx="234.40" cy="272.18" r="1.15" fill="#c01a32"/>
<circle cx="231.50" cy="271.67" r="1.15" fill="#c01a32"/>
<circle cx="240.20" cy="271.12" r="1.15" fill="#c01a32"/>
<circle cx="237.30" cy="270.53" r="1.15" fill="#c01a32"/>
<circle cx="244.55" cy="269.89" r="1.15" fill="#c01a32"/>
<circle cx="234.40" cy="269.18" r="1.15" fill="#c01a32"/>
<circle cx="241.65" cy="268.34" r="1.15" fill="#c01a32"/>
<circle cx="238.75" cy="267.32" r="1.15" fill="#c01a32"/>
<circle cx="235.85" cy="265.91" r="1.15" fill="#c01a32"/>
<circle cx="238.75" cy="264.00" r="1.15" fill="#c01a32"/>
<line x1="238.75" y1="280.82" x2="238.75" y2="268.81" stroke="#8e1530" stroke-width="1.1"/>
<line x1="234.55" y1="280.82" x2="242.95" y2="280.82" stroke="#8e1530" stroke-width="1.1"/>
<line x1="234.55" y1="268.81" x2="242.95" y2="268.81" stroke="#8e1530" stroke-width="1.1"/>
<line x1="198" y1="254.50" x2="198" y2="342.95" stroke="#1a1a1a" stroke-width="1.5"/>
<line x1="197.35" y1="342.3" x2="255" y2="342.3" stroke="#1a1a1a" stroke-width="1.5"/>
<line x1="195.2" y1="342.30" x2="198" y2="342.30" stroke="#1a1a1a" stroke-width="1"/>
<text x="191.60" y="344.60" font-size="6.8" text-anchor="end" fill="#222" stroke="#222" stroke-width="0.15" >0</text>
<line x1="195.2" y1="314.03" x2="198" y2="314.03" stroke="#1a1a1a" stroke-width="1"/>
<text x="191.60" y="316.33" font-size="6.8" text-anchor="end" fill="#222" stroke="#222" stroke-width="0.15" >20</text>
<line x1="195.2" y1="285.77" x2="198" y2="285.77" stroke="#1a1a1a" stroke-width="1"/>
<text x="191.60" y="288.07" font-size="6.8" text-anchor="end" fill="#222" stroke="#222" stroke-width="0.15" >40</text>
<line x1="195.2" y1="257.50" x2="198" y2="257.50" stroke="#1a1a1a" stroke-width="1"/>
<text x="191.60" y="259.80" font-size="6.8" text-anchor="end" fill="#222" stroke="#222" stroke-width="0.15" >60</text>
<line x1="214.5" y1="342.3" x2="214.5" y2="344.8" stroke="#1a1a1a" stroke-width="1"/>
<line x1="238.75" y1="342.3" x2="238.75" y2="344.8" stroke="#1a1a1a" stroke-width="1"/>
<text x="214.50" y="354.60" font-size="7" text-anchor="middle" fill="#222" stroke="#222" stroke-width="0.15" >Control</text>
<text x="238.75" y="354.60" font-size="7" text-anchor="middle" fill="#222" stroke="#222" stroke-width="0.15" >PV</text>
<polyline points="214.5,259.4 214.5,253.8 238.75,253.8 238.75,259.4" fill="none" stroke="#222" stroke-width="1"/>
<text x="226.62" y="254.30" font-size="7.8" text-anchor="middle" fill="#111" stroke="#111" stroke-width="0.3">****</text>
<text x="0.00" y="0.00" font-size="8.0" text-anchor="middle" fill="#2a2a2a" stroke="#2a2a2a" stroke-width="0.08" textLength="25.6" lengthAdjust="spacingAndGlyphs" transform="translate(178.60,298.30) rotate(-90)">MCV (fL)</text>
<rect x="341" y="296.48" width="15" height="45.82" fill="#7284b4"/>
<rect x="366.5" y="338.07" width="14.0" height="4.23" fill="#e07768"/>
<circle cx="348.50" cy="267.57" r="1.15" fill="#1f4488"/>
<circle cx="346.10" cy="282.38" r="1.15" fill="#1f4488"/>
<circle cx="350.90" cy="282.38" r="1.15" fill="#1f4488"/>
<circle cx="348.50" cy="295.77" r="1.15" fill="#1f4488"/>
<circle cx="348.50" cy="309.87" r="1.15" fill="#1f4488"/>
<circle cx="348.50" cy="325.38" r="1.15" fill="#1f4488"/>
<line x1="348.5" y1="315.51" x2="348.5" y2="276.03" stroke="#26385c" stroke-width="1.1"/>
<line x1="344.3" y1="315.51" x2="352.7" y2="315.51" stroke="#26385c" stroke-width="1.1"/>
<line x1="344.3" y1="276.03" x2="352.7" y2="276.03" stroke="#26385c" stroke-width="1.1"/>
<circle cx="379.30" cy="338.78" r="1.15" fill="#c01a32"/>
<circle cx="376.40" cy="339.48" r="1.15" fill="#c01a32"/>
<circle cx="373.50" cy="338.07" r="1.15" fill="#c01a32"/>
<circle cx="380.75" cy="336.66" r="1.15" fill="#c01a32"/>
<circle cx="370.60" cy="339.48" r="1.15" fill="#c01a32"/>
<circle cx="370.60" cy="337.37" r="1.15" fill="#c01a32"/>
<circle cx="377.85" cy="338.07" r="1.15" fill="#c01a32"/>
<circle cx="366.25" cy="336.66" r="1.15" fill="#c01a32"/>
<circle cx="373.50" cy="340.19" r="1.15" fill="#c01a32"/>
<circle cx="367.70" cy="338.78" r="1.15" fill="#c01a32"/>
<line x1="373.5" y1="340.19" x2="373.5" y2="335.95" stroke="#8e1530" stroke-width="1.1"/>
<line x1="369.3" y1="340.19" x2="377.7" y2="340.19" stroke="#8e1530" stroke-width="1.1"/>
<line x1="369.3" y1="335.95" x2="377.7" y2="335.95" stroke="#8e1530" stroke-width="1.1"/>
<line x1="332" y1="254.70" x2="332" y2="342.95" stroke="#1a1a1a" stroke-width="1.5"/>
<line x1="331.35" y1="342.3" x2="389" y2="342.3" stroke="#1a1a1a" stroke-width="1.5"/>
<line x1="329.2" y1="342.30" x2="332" y2="342.30" stroke="#1a1a1a" stroke-width="1"/>
<text x="325.60" y="344.60" font-size="6.8" text-anchor="end" fill="#222" stroke="#222" stroke-width="0.15" >0.000</text>
<line x1="329.2" y1="314.10" x2="332" y2="314.10" stroke="#1a1a1a" stroke-width="1"/>
<text x="325.60" y="316.40" font-size="6.8" text-anchor="end" fill="#222" stroke="#222" stroke-width="0.15" >0.002</text>
<line x1="329.2" y1="285.90" x2="332" y2="285.90" stroke="#1a1a1a" stroke-width="1"/>
<text x="325.60" y="288.20" font-size="6.8" text-anchor="end" fill="#222" stroke="#222" stroke-width="0.15" >0.004</text>
<line x1="329.2" y1="257.70" x2="332" y2="257.70" stroke="#1a1a1a" stroke-width="1"/>
<text x="325.60" y="260.00" font-size="6.8" text-anchor="end" fill="#222" stroke="#222" stroke-width="0.15" >0.006</text>
<line x1="348.5" y1="342.3" x2="348.5" y2="344.8" stroke="#1a1a1a" stroke-width="1"/>
<line x1="373.5" y1="342.3" x2="373.5" y2="344.8" stroke="#1a1a1a" stroke-width="1"/>
<text x="348.50" y="354.60" font-size="7" text-anchor="middle" fill="#222" stroke="#222" stroke-width="0.15" >Control</text>
<text x="373.50" y="354.60" font-size="7" text-anchor="middle" fill="#222" stroke="#222" stroke-width="0.15" >PV</text>
<polyline points="348.5,263 348.5,256.8 373.5,256.8 373.5,331.7" fill="none" stroke="#222" stroke-width="1"/>
<text x="361.00" y="257.30" font-size="7.8" text-anchor="middle" fill="#111" stroke="#111" stroke-width="0.3">**</text>
<text x="0.00" y="0.00" font-size="8.3" text-anchor="middle" fill="#2a2a2a" stroke="#2a2a2a" stroke-width="0.08" textLength="54.5" lengthAdjust="spacingAndGlyphs" font-style="italic" transform="translate(292.60,298.70) rotate(-90)">Kidney Epo mRNA</text>
<text x="0.00" y="0.00" font-size="8.3" text-anchor="middle" fill="#2a2a2a" stroke="#2a2a2a" stroke-width="0.08" textLength="25.6" lengthAdjust="spacingAndGlyphs" font-style="italic" transform="translate(303.00,298.50) rotate(-90)">(vs Hprt)</text>
<rect x="464.5" y="328.28" width="15.5" height="14.02" fill="#7284b4"/>
<rect x="489" y="298.10" width="15" height="44.20" fill="#e07768"/>
<circle cx="472.25" cy="331.68" r="1.15" fill="#1f4488"/>
<circle cx="475.15" cy="331.42" r="1.15" fill="#1f4488"/>
<circle cx="469.35" cy="330.92" r="1.15" fill="#1f4488"/>
<circle cx="478.05" cy="330.55" r="1.15" fill="#1f4488"/>
<circle cx="466.45" cy="330.26" r="1.15" fill="#1f4488"/>
<circle cx="473.70" cy="330.00" r="1.15" fill="#1f4488"/>
<circle cx="470.80" cy="329.77" r="1.15" fill="#1f4488"/>
<circle cx="476.60" cy="329.56" r="1.15" fill="#1f4488"/>
<circle cx="479.50" cy="329.37" r="1.15" fill="#1f4488"/>
<circle cx="467.90" cy="329.19" r="1.15" fill="#1f4488"/>
<circle cx="465.00" cy="329.01" r="1.15" fill="#1f4488"/>
<circle cx="472.25" cy="328.84" r="1.15" fill="#1f4488"/>
<circle cx="475.15" cy="328.68" r="1.15" fill="#1f4488"/>
<circle cx="478.05" cy="328.52" r="1.15" fill="#1f4488"/>
<circle cx="469.35" cy="328.35" r="1.15" fill="#1f4488"/>
<circle cx="466.45" cy="328.20" r="1.15" fill="#1f4488"/>
<circle cx="473.70" cy="328.03" r="1.15" fill="#1f4488"/>
<circle cx="476.60" cy="327.87" r="1.15" fill="#1f4488"/>
<circle cx="479.50" cy="327.71" r="1.15" fill="#1f4488"/>
<circle cx="470.80" cy="327.54" r="1.15" fill="#1f4488"/>
<circle cx="467.90" cy="327.36" r="1.15" fill="#1f4488"/>
<circle cx="465.00" cy="327.18" r="1.15" fill="#1f4488"/>
<circle cx="475.15" cy="326.99" r="1.15" fill="#1f4488"/>
<circle cx="478.05" cy="326.78" r="1.15" fill="#1f4488"/>
<circle cx="472.25" cy="326.55" r="1.15" fill="#1f4488"/>
<circle cx="469.35" cy="326.29" r="1.15" fill="#1f4488"/>
<circle cx="466.45" cy="326.00" r="1.15" fill="#1f4488"/>
<circle cx="476.60" cy="325.63" r="1.15" fill="#1f4488"/>
<circle cx="479.50" cy="325.13" r="1.15" fill="#1f4488"/>
<circle cx="473.70" cy="324.21" r="1.15" fill="#1f4488"/>
<line x1="472.25" y1="329.98" x2="472.25" y2="326.57" stroke="#26385c" stroke-width="1.1"/>
<line x1="468.05" y1="329.98" x2="476.45" y2="329.98" stroke="#26385c" stroke-width="1.1"/>
<line x1="468.05" y1="326.57" x2="476.45" y2="326.57" stroke="#26385c" stroke-width="1.1"/>
<circle cx="496.50" cy="265.80" r="1.15" fill="#c01a32"/>
<circle cx="496.50" cy="276.43" r="1.15" fill="#c01a32"/>
<circle cx="499.40" cy="280.68" r="1.15" fill="#c01a32"/>
<circle cx="493.60" cy="280.68" r="1.15" fill="#c01a32"/>
<circle cx="496.50" cy="281.95" r="1.15" fill="#c01a32"/>
<circle cx="502.30" cy="296.40" r="1.15" fill="#c01a32"/>
<circle cx="493.60" cy="297.68" r="1.15" fill="#c01a32"/>
<circle cx="499.40" cy="298.10" r="1.15" fill="#c01a32"/>
<circle cx="496.50" cy="298.95" r="1.15" fill="#c01a32"/>
<circle cx="502.30" cy="299.80" r="1.15" fill="#c01a32"/>
<circle cx="490.70" cy="299.80" r="1.15" fill="#c01a32"/>
<circle cx="493.60" cy="301.50" r="1.15" fill="#c01a32"/>
<circle cx="496.50" cy="301.93" r="1.15" fill="#c01a32"/>
<circle cx="499.40" cy="301.93" r="1.15" fill="#c01a32"/>
<circle cx="493.60" cy="306.18" r="1.15" fill="#c01a32"/>
<circle cx="502.30" cy="306.18" r="1.15" fill="#c01a32"/>
<circle cx="499.40" cy="306.60" r="1.15" fill="#c01a32"/>
<circle cx="496.50" cy="307.02" r="1.15" fill="#c01a32"/>
<circle cx="490.70" cy="310.00" r="1.15" fill="#c01a32"/>
<circle cx="502.30" cy="310.43" r="1.15" fill="#c01a32"/>
<circle cx="493.60" cy="310.85" r="1.15" fill="#c01a32"/>
<circle cx="499.40" cy="311.70" r="1.15" fill="#c01a32"/>
<circle cx="496.50" cy="312.55" r="1.15" fill="#c01a32"/>
<circle cx="496.50" cy="315.95" r="1.15" fill="#c01a32"/>
<line x1="496.5" y1="311.28" x2="496.5" y2="284.50" stroke="#8e1530" stroke-width="1.1"/>
<line x1="492.3" y1="311.28" x2="500.7" y2="311.28" stroke="#8e1530" stroke-width="1.1"/>
<line x1="492.3" y1="284.50" x2="500.7" y2="284.50" stroke="#8e1530" stroke-width="1.1"/>
<line x1="455.7" y1="254.30" x2="455.7" y2="342.95" stroke="#1a1a1a" stroke-width="1.5"/>
<line x1="455.05" y1="342.3" x2="513.5" y2="342.3" stroke="#1a1a1a" stroke-width="1.5"/>
<line x1="452.9" y1="342.30" x2="455.7" y2="342.30" stroke="#1a1a1a" stroke-width="1"/>
<text x="449.30" y="344.60" font-size="6.8" text-anchor="end" fill="#222" stroke="#222" stroke-width="0.15" >0</text>
<line x1="452.9" y1="321.05" x2="455.7" y2="321.05" stroke="#1a1a1a" stroke-width="1"/>
<text x="449.30" y="323.35" font-size="6.8" text-anchor="end" fill="#222" stroke="#222" stroke-width="0.15" >5</text>
<line x1="452.9" y1="299.80" x2="455.7" y2="299.80" stroke="#1a1a1a" stroke-width="1"/>
<text x="449.30" y="302.10" font-size="6.8" text-anchor="end" fill="#222" stroke="#222" stroke-width="0.15" >10</text>
<line x1="452.9" y1="278.55" x2="455.7" y2="278.55" stroke="#1a1a1a" stroke-width="1"/>
<text x="449.30" y="280.85" font-size="6.8" text-anchor="end" fill="#222" stroke="#222" stroke-width="0.15" >15</text>
<line x1="452.9" y1="257.30" x2="455.7" y2="257.30" stroke="#1a1a1a" stroke-width="1"/>
<text x="449.30" y="259.60" font-size="6.8" text-anchor="end" fill="#222" stroke="#222" stroke-width="0.15" >20</text>
<line x1="472.25" y1="342.3" x2="472.25" y2="344.8" stroke="#1a1a1a" stroke-width="1"/>
<line x1="496.5" y1="342.3" x2="496.5" y2="344.8" stroke="#1a1a1a" stroke-width="1"/>
<text x="472.25" y="354.60" font-size="7" text-anchor="middle" fill="#222" stroke="#222" stroke-width="0.15" >Control</text>
<text x="496.50" y="354.60" font-size="7" text-anchor="middle" fill="#222" stroke="#222" stroke-width="0.15" >PV</text>
<polyline points="472.25,318 472.25,255.3 496.5,255.3 496.5,261" fill="none" stroke="#222" stroke-width="1"/>
<text x="484.38" y="255.80" font-size="7.8" text-anchor="middle" fill="#111" stroke="#111" stroke-width="0.3">****</text>
<text x="0.00" y="0.00" font-size="8.0" text-anchor="middle" fill="#2a2a2a" stroke="#2a2a2a" stroke-width="0.08" textLength="43.4" lengthAdjust="spacingAndGlyphs" transform="translate(426.00,298.40) rotate(-90)">Spleen weight</text>
<text x="0.00" y="0.00" font-size="8.0" text-anchor="middle" fill="#2a2a2a" stroke="#2a2a2a" stroke-width="0.08" textLength="59.9" lengthAdjust="spacingAndGlyphs" transform="translate(435.50,298.40) rotate(-90)">(mg/g body weight)</text>
<rect x="75" y="405.44" width="15.80" height="70.76" fill="#cc0d2d"/>
<rect x="75" y="431.52" width="15.80" height="44.68" fill="#e8127f"/>
<rect x="75" y="454.87" width="15.80" height="21.33" fill="#55297a"/>
<rect x="75" y="469.38" width="15.80" height="6.82" fill="#1f4a8a"/>
<rect x="75" y="473.33" width="15.80" height="2.87" fill="#29a6df"/>
<rect x="99.4" y="405.44" width="15.80" height="70.76" fill="#cc0d2d"/>
<rect x="99.4" y="442.01" width="15.80" height="34.19" fill="#e8127f"/>
<rect x="99.4" y="458.60" width="15.80" height="17.60" fill="#55297a"/>
<rect x="99.4" y="470.38" width="15.80" height="5.82" fill="#1f4a8a"/>
<rect x="99.4" y="472.32" width="15.80" height="3.88" fill="#29a6df"/>
<line x1="82.9" y1="469.38" x2="82.9" y2="469.02" stroke="#2a1a22" stroke-width="1"/>
<line x1="78.7" y1="469.02" x2="87.10000000000001" y2="469.02" stroke="#2a1a22" stroke-width="1"/>
<line x1="82.9" y1="454.87" x2="82.9" y2="453.57" stroke="#2a1a22" stroke-width="1"/>
<line x1="78.7" y1="453.57" x2="87.10000000000001" y2="453.57" stroke="#2a1a22" stroke-width="1"/>
<line x1="82.9" y1="431.52" x2="82.9" y2="425.92" stroke="#2a1a22" stroke-width="1"/>
<line x1="78.7" y1="425.92" x2="87.10000000000001" y2="425.92" stroke="#2a1a22" stroke-width="1"/>
<line x1="82.9" y1="405.44" x2="82.9" y2="398.26" stroke="#222" stroke-width="1"/>
<line x1="78.7" y1="398.26" x2="87.10000000000001" y2="398.26" stroke="#222" stroke-width="1"/>
<line x1="107.30000000000001" y1="470.38" x2="107.30000000000001" y2="469.02" stroke="#2a1a22" stroke-width="1"/>
<line x1="103.10000000000001" y1="469.02" x2="111.50000000000001" y2="469.02" stroke="#2a1a22" stroke-width="1"/>
<line x1="107.30000000000001" y1="458.60" x2="107.30000000000001" y2="453.93" stroke="#2a1a22" stroke-width="1"/>
<line x1="103.10000000000001" y1="453.93" x2="111.50000000000001" y2="453.93" stroke="#2a1a22" stroke-width="1"/>
<line x1="107.30000000000001" y1="442.01" x2="107.30000000000001" y2="437.05" stroke="#2a1a22" stroke-width="1"/>
<line x1="103.10000000000001" y1="437.05" x2="111.50000000000001" y2="437.05" stroke="#2a1a22" stroke-width="1"/>
<line x1="107.30000000000001" y1="405.44" x2="107.30000000000001" y2="397.18" stroke="#222" stroke-width="1"/>
<line x1="103.10000000000001" y1="397.18" x2="111.50000000000001" y2="397.18" stroke="#222" stroke-width="1"/>
<line x1="66.3" y1="387.00" x2="66.3" y2="476.85" stroke="#1a1a1a" stroke-width="1.5"/>
<line x1="65.64999999999999" y1="476.2" x2="123.5" y2="476.2" stroke="#1a1a1a" stroke-width="1.5"/>
<line x1="63.5" y1="476.20" x2="66.3" y2="476.20" stroke="#1a1a1a" stroke-width="1"/>
<text x="59.90" y="478.50" font-size="6.8" text-anchor="end" fill="#222" stroke="#222" stroke-width="0.15" >0</text>
<line x1="63.5" y1="461.83" x2="66.3" y2="461.83" stroke="#1a1a1a" stroke-width="1"/>
<text x="59.90" y="464.13" font-size="6.8" text-anchor="end" fill="#222" stroke="#222" stroke-width="0.15" >20</text>
<line x1="63.5" y1="447.47" x2="66.3" y2="447.47" stroke="#1a1a1a" stroke-width="1"/>
<text x="59.90" y="449.77" font-size="6.8" text-anchor="end" fill="#222" stroke="#222" stroke-width="0.15" >40</text>
<line x1="63.5" y1="433.10" x2="66.3" y2="433.10" stroke="#1a1a1a" stroke-width="1"/>
<text x="59.90" y="435.40" font-size="6.8" text-anchor="end" fill="#222" stroke="#222" stroke-width="0.15" >60</text>
<line x1="63.5" y1="418.73" x2="66.3" y2="418.73" stroke="#1a1a1a" stroke-width="1"/>
<text x="59.90" y="421.03" font-size="6.8" text-anchor="end" fill="#222" stroke="#222" stroke-width="0.15" >80</text>
<line x1="63.5" y1="404.37" x2="66.3" y2="404.37" stroke="#1a1a1a" stroke-width="1"/>
<text x="59.90" y="406.67" font-size="6.8" text-anchor="end" fill="#222" stroke="#222" stroke-width="0.15" >100</text>
<line x1="63.5" y1="390.00" x2="66.3" y2="390.00" stroke="#1a1a1a" stroke-width="1"/>
<text x="59.90" y="392.30" font-size="6.8" text-anchor="end" fill="#222" stroke="#222" stroke-width="0.15" >120</text>
<line x1="82.9" y1="476.2" x2="82.9" y2="478.7" stroke="#1a1a1a" stroke-width="1"/>
<line x1="107.30000000000001" y1="476.2" x2="107.30000000000001" y2="478.7" stroke="#1a1a1a" stroke-width="1"/>
<text x="82.90" y="488.50" font-size="7" text-anchor="middle" fill="#222" stroke="#222" stroke-width="0.15" >Control</text>
<text x="107.30" y="488.50" font-size="7" text-anchor="middle" fill="#222" stroke="#222" stroke-width="0.15" >PV</text>
<text x="0.00" y="0.00" font-size="8.0" text-anchor="middle" fill="#2a2a2a" stroke="#2a2a2a" stroke-width="0.08" textLength="64.6" lengthAdjust="spacingAndGlyphs" transform="translate(43.2,431.1) rotate(-90)">% Ter119+ cells (BM)</text>
<rect x="130.5" y="405.10" width="6.4" height="6.4" fill="#cc0d2d"/>
<text x="140.20" y="410.50" font-size="6.3" text-anchor="start" fill="#222" stroke="#222" stroke-width="0.15" >V&#160;&#160;(RBC) ****</text>
<rect x="130.5" y="420.20" width="6.4" height="6.4" fill="#e8127f"/>
<text x="140.20" y="425.60" font-size="6.3" text-anchor="start" fill="#222" stroke="#222" stroke-width="0.15" >IV (Ortho/Retic) ***</text>
<rect x="130.5" y="435.30" width="6.4" height="6.4" fill="#55297a"/>
<text x="140.20" y="440.70" font-size="6.3" text-anchor="start" fill="#222" stroke="#222" stroke-width="0.15" >III (Poly)</text>
<rect x="130.5" y="450.40" width="6.4" height="6.4" fill="#1f4a8a"/>
<text x="140.20" y="455.80" font-size="6.3" text-anchor="start" fill="#222" stroke="#222" stroke-width="0.15" >II&#160;&#160;(Baso)</text>
<rect x="130.5" y="465.50" width="6.4" height="6.4" fill="#29a6df"/>
<text x="140.20" y="470.90" font-size="6.3" text-anchor="start" fill="#222" stroke="#222" stroke-width="0.15" >I&#160;&#160;&#160;(Pro-E)</text>
<rect x="341" y="453.91" width="15" height="22.39" fill="#7284b4"/>
<rect x="366" y="435.36" width="14" height="40.94" fill="#e07768"/>
<circle cx="348.50" cy="446.02" r="1.15" fill="#1f4488"/>
<circle cx="348.50" cy="449.00" r="1.15" fill="#1f4488"/>
<circle cx="351.40" cy="449.00" r="1.15" fill="#1f4488"/>
<circle cx="344.15" cy="449.00" r="1.15" fill="#1f4488"/>
<circle cx="354.30" cy="449.00" r="1.15" fill="#1f4488"/>
<circle cx="345.60" cy="451.78" r="1.15" fill="#1f4488"/>
<circle cx="349.95" cy="452.42" r="1.15" fill="#1f4488"/>
<circle cx="347.05" cy="454.55" r="1.15" fill="#1f4488"/>
<circle cx="352.85" cy="453.91" r="1.15" fill="#1f4488"/>
<circle cx="349.95" cy="455.40" r="1.15" fill="#1f4488"/>
<circle cx="347.05" cy="457.53" r="1.15" fill="#1f4488"/>
<circle cx="351.40" cy="458.17" r="1.15" fill="#1f4488"/>
<circle cx="348.50" cy="460.31" r="1.15" fill="#1f4488"/>
<line x1="348.5" y1="457.53" x2="348.5" y2="449.64" stroke="#26385c" stroke-width="1.1"/>
<line x1="344.3" y1="457.53" x2="352.7" y2="457.53" stroke="#26385c" stroke-width="1.1"/>
<line x1="344.3" y1="449.64" x2="352.7" y2="449.64" stroke="#26385c" stroke-width="1.1"/>
<circle cx="375.90" cy="412.75" r="1.15" fill="#c01a32"/>
<circle cx="373.00" cy="414.03" r="1.15" fill="#c01a32"/>
<circle cx="370.10" cy="412.75" r="1.15" fill="#c01a32"/>
<circle cx="373.00" cy="420.43" r="1.15" fill="#c01a32"/>
<circle cx="375.90" cy="420.43" r="1.15" fill="#c01a32"/>
<circle cx="373.00" cy="426.83" r="1.15" fill="#c01a32"/>
<circle cx="375.90" cy="434.29" r="1.15" fill="#c01a32"/>
<circle cx="373.00" cy="435.36" r="1.15" fill="#c01a32"/>
<circle cx="373.00" cy="441.75" r="1.15" fill="#c01a32"/>
<circle cx="375.90" cy="441.75" r="1.15" fill="#c01a32"/>
<circle cx="373.00" cy="445.38" r="1.15" fill="#c01a32"/>
<circle cx="375.90" cy="449.00" r="1.15" fill="#c01a32"/>
<circle cx="373.00" cy="451.14" r="1.15" fill="#c01a32"/>
<circle cx="373.00" cy="454.98" r="1.15" fill="#c01a32"/>
<circle cx="373.00" cy="460.95" r="1.15" fill="#c01a32"/>
<line x1="373.0" y1="449.64" x2="373.0" y2="419.79" stroke="#8e1530" stroke-width="1.1"/>
<line x1="368.8" y1="449.64" x2="377.2" y2="449.64" stroke="#8e1530" stroke-width="1.1"/>
<line x1="368.8" y1="419.79" x2="377.2" y2="419.79" stroke="#8e1530" stroke-width="1.1"/>
<line x1="331.5" y1="388.00" x2="331.5" y2="476.95" stroke="#1a1a1a" stroke-width="1.5"/>
<line x1="330.85" y1="476.3" x2="389" y2="476.3" stroke="#1a1a1a" stroke-width="1.5"/>
<line x1="328.7" y1="476.30" x2="331.5" y2="476.30" stroke="#1a1a1a" stroke-width="1"/>
<text x="325.10" y="478.60" font-size="6.8" text-anchor="end" fill="#222" stroke="#222" stroke-width="0.15" >0.00</text>
<line x1="328.7" y1="454.98" x2="331.5" y2="454.98" stroke="#1a1a1a" stroke-width="1"/>
<text x="325.10" y="457.28" font-size="6.8" text-anchor="end" fill="#222" stroke="#222" stroke-width="0.15" >0.01</text>
<line x1="328.7" y1="433.65" x2="331.5" y2="433.65" stroke="#1a1a1a" stroke-width="1"/>
<text x="325.10" y="435.95" font-size="6.8" text-anchor="end" fill="#222" stroke="#222" stroke-width="0.15" >0.02</text>
<line x1="328.7" y1="412.32" x2="331.5" y2="412.32" stroke="#1a1a1a" stroke-width="1"/>
<text x="325.10" y="414.62" font-size="6.8" text-anchor="end" fill="#222" stroke="#222" stroke-width="0.15" >0.03</text>
<line x1="328.7" y1="391.00" x2="331.5" y2="391.00" stroke="#1a1a1a" stroke-width="1"/>
<text x="325.10" y="393.30" font-size="6.8" text-anchor="end" fill="#222" stroke="#222" stroke-width="0.15" >0.04</text>
<line x1="348.5" y1="476.3" x2="348.5" y2="478.8" stroke="#1a1a1a" stroke-width="1"/>
<line x1="373.0" y1="476.3" x2="373.0" y2="478.8" stroke="#1a1a1a" stroke-width="1"/>
<text x="348.50" y="488.60" font-size="7" text-anchor="middle" fill="#222" stroke="#222" stroke-width="0.15" >Control</text>
<text x="373.00" y="488.60" font-size="7" text-anchor="middle" fill="#222" stroke="#222" stroke-width="0.15" >PV</text>
<polyline points="348.5,444.5 348.5,401.8 373.0,401.8 373.0,407.5" fill="none" stroke="#222" stroke-width="1"/>
<text x="360.75" y="402.30" font-size="7.8" text-anchor="middle" fill="#111" stroke="#111" stroke-width="0.3">****</text>
<text x="0.00" y="0.00" font-size="8.3" text-anchor="middle" fill="#2a2a2a" stroke="#2a2a2a" stroke-width="0.08" textLength="43.8" lengthAdjust="spacingAndGlyphs" font-style="italic" transform="translate(296.00,432.00) rotate(-90)">BM Erfe mRNA</text>
<text x="0.00" y="0.00" font-size="8.3" text-anchor="middle" fill="#2a2a2a" stroke="#2a2a2a" stroke-width="0.08" textLength="25.5" lengthAdjust="spacingAndGlyphs" font-style="italic" transform="translate(306.00,432.30) rotate(-90)">(vs Hprt)</text>
<rect x="465" y="471.08" width="15" height="5.22" fill="#7284b4"/>
<rect x="489" y="460.07" width="15" height="16.23" fill="#e07768"/>
<circle cx="467.50" cy="466.70" r="1.15" fill="#1f4488"/>
<circle cx="472.50" cy="467.12" r="1.15" fill="#1f4488"/>
<circle cx="477.50" cy="465.29" r="1.15" fill="#1f4488"/>
<circle cx="469.50" cy="470.65" r="1.15" fill="#1f4488"/>
<circle cx="475.50" cy="471.36" r="1.15" fill="#1f4488"/>
<circle cx="467.50" cy="474.89" r="1.15" fill="#1f4488"/>
<circle cx="471.50" cy="475.59" r="1.15" fill="#1f4488"/>
<circle cx="474.50" cy="475.88" r="1.15" fill="#1f4488"/>
<circle cx="477.50" cy="475.17" r="1.15" fill="#1f4488"/>
<line x1="472.5" y1="475.74" x2="472.5" y2="466.42" stroke="#26385c" stroke-width="1.1"/>
<line x1="468.3" y1="475.74" x2="476.7" y2="475.74" stroke="#26385c" stroke-width="1.1"/>
<line x1="468.3" y1="466.42" x2="476.7" y2="466.42" stroke="#26385c" stroke-width="1.1"/>
<circle cx="494.50" cy="409.95" r="1.15" fill="#c01a32"/>
<circle cx="499.00" cy="409.95" r="1.15" fill="#c01a32"/>
<circle cx="496.50" cy="460.77" r="1.15" fill="#c01a32"/>
<circle cx="492.50" cy="465.01" r="1.15" fill="#c01a32"/>
<circle cx="500.50" cy="465.01" r="1.15" fill="#c01a32"/>
<circle cx="494.50" cy="469.24" r="1.15" fill="#c01a32"/>
<circle cx="499.50" cy="470.65" r="1.15" fill="#c01a32"/>
<circle cx="492.50" cy="474.18" r="1.15" fill="#c01a32"/>
<circle cx="496.50" cy="474.89" r="1.15" fill="#c01a32"/>
<circle cx="501.50" cy="474.61" r="1.15" fill="#c01a32"/>
<line x1="496.5" y1="475.88" x2="496.5" y2="436.35" stroke="#8e1530" stroke-width="1.1"/>
<line x1="492.3" y1="475.88" x2="500.7" y2="475.88" stroke="#8e1530" stroke-width="1.1"/>
<line x1="492.3" y1="436.35" x2="500.7" y2="436.35" stroke="#8e1530" stroke-width="1.1"/>
<line x1="455" y1="388.60" x2="455" y2="476.95" stroke="#1a1a1a" stroke-width="1.5"/>
<line x1="454.35" y1="476.3" x2="513.5" y2="476.3" stroke="#1a1a1a" stroke-width="1.5"/>
<line x1="452.2" y1="476.30" x2="455" y2="476.30" stroke="#1a1a1a" stroke-width="1"/>
<text x="448.60" y="478.60" font-size="6.8" text-anchor="end" fill="#222" stroke="#222" stroke-width="0.15" >0.0</text>
<line x1="452.2" y1="448.07" x2="455" y2="448.07" stroke="#1a1a1a" stroke-width="1"/>
<text x="448.60" y="450.37" font-size="6.8" text-anchor="end" fill="#222" stroke="#222" stroke-width="0.15" >0.2</text>
<line x1="452.2" y1="419.83" x2="455" y2="419.83" stroke="#1a1a1a" stroke-width="1"/>
<text x="448.60" y="422.13" font-size="6.8" text-anchor="end" fill="#222" stroke="#222" stroke-width="0.15" >0.4</text>
<line x1="452.2" y1="391.60" x2="455" y2="391.60" stroke="#1a1a1a" stroke-width="1"/>
<text x="448.60" y="393.90" font-size="6.8" text-anchor="end" fill="#222" stroke="#222" stroke-width="0.15" >0.6</text>
<line x1="472.5" y1="476.3" x2="472.5" y2="478.8" stroke="#1a1a1a" stroke-width="1"/>
<line x1="496.5" y1="476.3" x2="496.5" y2="478.8" stroke="#1a1a1a" stroke-width="1"/>
<text x="472.50" y="488.60" font-size="7" text-anchor="middle" fill="#222" stroke="#222" stroke-width="0.15" >Control</text>
<text x="496.50" y="488.60" font-size="7" text-anchor="middle" fill="#222" stroke="#222" stroke-width="0.15" >PV</text>
<polyline points="472.5,463.6 472.5,399.9 496.5,399.9 496.5,405" fill="none" stroke="#222" stroke-width="1"/>
<text x="484.50" y="397.90" font-size="6.3" text-anchor="middle" fill="#222" stroke="#222" stroke-width="0.15" >ns</text>
<text x="0.00" y="0.00" font-size="8.3" text-anchor="middle" fill="#2a2a2a" stroke="#2a2a2a" stroke-width="0.08" textLength="54.2" lengthAdjust="spacingAndGlyphs" font-style="italic" transform="translate(422.20,432.00) rotate(-90)">Spleen Erfe mRNA</text>
<text x="0.00" y="0.00" font-size="8.3" text-anchor="middle" fill="#2a2a2a" stroke="#2a2a2a" stroke-width="0.08" textLength="26" lengthAdjust="spacingAndGlyphs" font-style="italic" transform="translate(433.00,432.50) rotate(-90)">(vs Hprt)</text>
<rect x="75" y="611.89" width="15" height="1.01" fill="#7284b4"/>
<rect x="99.5" y="598.75" width="14.5" height="14.15" fill="#e07768"/>
<circle cx="81.50" cy="607.17" r="1.15" fill="#1f4488"/>
<circle cx="84.50" cy="608.52" r="1.15" fill="#1f4488"/>
<circle cx="78.50" cy="609.53" r="1.15" fill="#1f4488"/>
<circle cx="86.50" cy="610.21" r="1.15" fill="#1f4488"/>
<circle cx="80.50" cy="610.88" r="1.15" fill="#1f4488"/>
<circle cx="83.50" cy="611.55" r="1.15" fill="#1f4488"/>
<circle cx="87.50" cy="611.89" r="1.15" fill="#1f4488"/>
<circle cx="77.50" cy="612.23" r="1.15" fill="#1f4488"/>
<circle cx="79.50" cy="612.56" r="1.15" fill="#1f4488"/>
<circle cx="85.50" cy="612.56" r="1.15" fill="#1f4488"/>
<circle cx="82.50" cy="612.23" r="1.15" fill="#1f4488"/>
<circle cx="88.50" cy="612.39" r="1.15" fill="#1f4488"/>
<line x1="82.5" y1="612.90" x2="82.5" y2="609.87" stroke="#26385c" stroke-width="1.1"/>
<line x1="78.3" y1="612.90" x2="86.7" y2="612.90" stroke="#26385c" stroke-width="1.1"/>
<line x1="78.3" y1="609.87" x2="86.7" y2="609.87" stroke="#26385c" stroke-width="1.1"/>
<circle cx="106.75" cy="542.17" r="1.15" fill="#c01a32"/>
<circle cx="102.25" cy="590.00" r="1.15" fill="#c01a32"/>
<circle cx="106.75" cy="592.69" r="1.15" fill="#c01a32"/>
<circle cx="103.75" cy="596.06" r="1.15" fill="#c01a32"/>
<circle cx="109.75" cy="597.74" r="1.15" fill="#c01a32"/>
<circle cx="106.75" cy="600.10" r="1.15" fill="#c01a32"/>
<circle cx="102.75" cy="602.80" r="1.15" fill="#c01a32"/>
<circle cx="110.75" cy="604.48" r="1.15" fill="#c01a32"/>
<circle cx="106.75" cy="606.16" r="1.15" fill="#c01a32"/>
<circle cx="103.75" cy="607.85" r="1.15" fill="#c01a32"/>
<circle cx="110.75" cy="608.86" r="1.15" fill="#c01a32"/>
<circle cx="105.75" cy="610.21" r="1.15" fill="#c01a32"/>
<line x1="106.75" y1="612.90" x2="106.75" y2="580.40" stroke="#8e1530" stroke-width="1.1"/>
<line x1="102.55" y1="612.90" x2="110.95" y2="612.90" stroke="#8e1530" stroke-width="1.1"/>
<line x1="102.55" y1="580.40" x2="110.95" y2="580.40" stroke="#8e1530" stroke-width="1.1"/>
<line x1="65.8" y1="525.70" x2="65.8" y2="613.55" stroke="#1a1a1a" stroke-width="1.5"/>
<line x1="65.14999999999999" y1="612.9" x2="123.5" y2="612.9" stroke="#1a1a1a" stroke-width="1.5"/>
<line x1="63.0" y1="612.90" x2="65.8" y2="612.90" stroke="#1a1a1a" stroke-width="1"/>
<text x="59.40" y="615.20" font-size="6.8" text-anchor="end" fill="#222" stroke="#222" stroke-width="0.15" >0.0</text>
<line x1="63.0" y1="596.06" x2="65.8" y2="596.06" stroke="#1a1a1a" stroke-width="1"/>
<text x="59.40" y="598.36" font-size="6.8" text-anchor="end" fill="#222" stroke="#222" stroke-width="0.15" >0.5</text>
<line x1="63.0" y1="579.22" x2="65.8" y2="579.22" stroke="#1a1a1a" stroke-width="1"/>
<text x="59.40" y="581.52" font-size="6.8" text-anchor="end" fill="#222" stroke="#222" stroke-width="0.15" >1.0</text>
<line x1="63.0" y1="562.38" x2="65.8" y2="562.38" stroke="#1a1a1a" stroke-width="1"/>
<text x="59.40" y="564.68" font-size="6.8" text-anchor="end" fill="#222" stroke="#222" stroke-width="0.15" >1.5</text>
<line x1="63.0" y1="545.54" x2="65.8" y2="545.54" stroke="#1a1a1a" stroke-width="1"/>
<text x="59.40" y="547.84" font-size="6.8" text-anchor="end" fill="#222" stroke="#222" stroke-width="0.15" >2.0</text>
<line x1="63.0" y1="528.70" x2="65.8" y2="528.70" stroke="#1a1a1a" stroke-width="1"/>
<text x="59.40" y="531.00" font-size="6.8" text-anchor="end" fill="#222" stroke="#222" stroke-width="0.15" >2.5</text>
<line x1="82.5" y1="612.9" x2="82.5" y2="615.4" stroke="#1a1a1a" stroke-width="1"/>
<line x1="106.75" y1="612.9" x2="106.75" y2="615.4" stroke="#1a1a1a" stroke-width="1"/>
<text x="82.50" y="625.20" font-size="7" text-anchor="middle" fill="#222" stroke="#222" stroke-width="0.15" >Control</text>
<text x="106.75" y="625.20" font-size="7" text-anchor="middle" fill="#222" stroke="#222" stroke-width="0.15" >PV</text>
<polyline points="82.5,605.6 82.5,532 106.75,532 106.75,536.3" fill="none" stroke="#222" stroke-width="1"/>
<text x="94.62" y="532.50" font-size="7.8" text-anchor="middle" fill="#111" stroke="#111" stroke-width="0.3">***</text>
<text x="0.00" y="0.00" font-size="8.0" text-anchor="middle" fill="#2a2a2a" stroke="#2a2a2a" stroke-width="0.08" textLength="57.5" lengthAdjust="spacingAndGlyphs" font-style="italic" transform="translate(44.20,567.30) rotate(-90)">Serum ERFE (ng/ml)</text>
<rect x="207" y="588.77" width="15" height="23.93" fill="#7284b4"/>
<rect x="231.5" y="589.83" width="14.5" height="22.87" fill="#e07768"/>
<circle cx="214.50" cy="542.82" r="1.15" fill="#1f4488"/>
<circle cx="214.50" cy="577.76" r="1.15" fill="#1f4488"/>
<circle cx="214.50" cy="588.35" r="1.15" fill="#1f4488"/>
<circle cx="218.85" cy="587.71" r="1.15" fill="#1f4488"/>
<circle cx="211.60" cy="588.35" r="1.15" fill="#1f4488"/>
<circle cx="217.40" cy="590.47" r="1.15" fill="#1f4488"/>
<circle cx="214.50" cy="592.58" r="1.15" fill="#1f4488"/>
<circle cx="211.60" cy="596.82" r="1.15" fill="#1f4488"/>
<circle cx="220.30" cy="596.82" r="1.15" fill="#1f4488"/>
<circle cx="214.50" cy="598.94" r="1.15" fill="#1f4488"/>
<circle cx="217.40" cy="602.54" r="1.15" fill="#1f4488"/>
<circle cx="211.60" cy="602.11" r="1.15" fill="#1f4488"/>
<circle cx="214.50" cy="603.17" r="1.15" fill="#1f4488"/>
<circle cx="217.40" cy="597.88" r="1.15" fill="#1f4488"/>
<line x1="214.5" y1="604.65" x2="214.5" y2="572.47" stroke="#26385c" stroke-width="1.1"/>
<line x1="210.3" y1="604.65" x2="218.7" y2="604.65" stroke="#26385c" stroke-width="1.1"/>
<line x1="210.3" y1="572.47" x2="218.7" y2="572.47" stroke="#26385c" stroke-width="1.1"/>
<circle cx="240.20" cy="564.42" r="1.15" fill="#c01a32"/>
<circle cx="237.30" cy="563.57" r="1.15" fill="#c01a32"/>
<circle cx="238.75" cy="567.17" r="1.15" fill="#c01a32"/>
<circle cx="238.75" cy="577.13" r="1.15" fill="#c01a32"/>
<circle cx="238.75" cy="583.06" r="1.15" fill="#c01a32"/>
<circle cx="241.65" cy="586.23" r="1.15" fill="#c01a32"/>
<circle cx="238.75" cy="588.35" r="1.15" fill="#c01a32"/>
<circle cx="241.65" cy="590.47" r="1.15" fill="#c01a32"/>
<circle cx="238.75" cy="592.58" r="1.15" fill="#c01a32"/>
<circle cx="235.85" cy="594.70" r="1.15" fill="#c01a32"/>
<circle cx="241.65" cy="595.76" r="1.15" fill="#c01a32"/>
<circle cx="238.75" cy="596.82" r="1.15" fill="#c01a32"/>
<circle cx="232.95" cy="598.94" r="1.15" fill="#c01a32"/>
<circle cx="235.85" cy="600.00" r="1.15" fill="#c01a32"/>
<circle cx="241.65" cy="600.42" r="1.15" fill="#c01a32"/>
<circle cx="238.75" cy="601.05" r="1.15" fill="#c01a32"/>
<circle cx="244.55" cy="599.57" r="1.15" fill="#c01a32"/>
<line x1="238.75" y1="604.23" x2="238.75" y2="575.22" stroke="#8e1530" stroke-width="1.1"/>
<line x1="234.55" y1="604.23" x2="242.95" y2="604.23" stroke="#8e1530" stroke-width="1.1"/>
<line x1="234.55" y1="575.22" x2="242.95" y2="575.22" stroke="#8e1530" stroke-width="1.1"/>
<line x1="198.2" y1="525.00" x2="198.2" y2="613.35" stroke="#1a1a1a" stroke-width="1.5"/>
<line x1="197.54999999999998" y1="612.7" x2="255" y2="612.7" stroke="#1a1a1a" stroke-width="1.5"/>
<line x1="195.39999999999998" y1="612.70" x2="198.2" y2="612.70" stroke="#1a1a1a" stroke-width="1"/>
<text x="191.80" y="615.00" font-size="6.8" text-anchor="end" fill="#222" stroke="#222" stroke-width="0.15" >0</text>
<line x1="195.39999999999998" y1="591.53" x2="198.2" y2="591.53" stroke="#1a1a1a" stroke-width="1"/>
<text x="191.80" y="593.83" font-size="6.8" text-anchor="end" fill="#222" stroke="#222" stroke-width="0.15" >100</text>
<line x1="195.39999999999998" y1="570.35" x2="198.2" y2="570.35" stroke="#1a1a1a" stroke-width="1"/>
<text x="191.80" y="572.65" font-size="6.8" text-anchor="end" fill="#222" stroke="#222" stroke-width="0.15" >200</text>
<line x1="195.39999999999998" y1="549.17" x2="198.2" y2="549.17" stroke="#1a1a1a" stroke-width="1"/>
<text x="191.80" y="551.47" font-size="6.8" text-anchor="end" fill="#222" stroke="#222" stroke-width="0.15" >300</text>
<line x1="195.39999999999998" y1="528.00" x2="198.2" y2="528.00" stroke="#1a1a1a" stroke-width="1"/>
<text x="191.80" y="530.30" font-size="6.8" text-anchor="end" fill="#222" stroke="#222" stroke-width="0.15" >400</text>
<line x1="214.5" y1="612.7" x2="214.5" y2="615.2" stroke="#1a1a1a" stroke-width="1"/>
<line x1="238.75" y1="612.7" x2="238.75" y2="615.2" stroke="#1a1a1a" stroke-width="1"/>
<text x="214.50" y="625.00" font-size="7" text-anchor="middle" fill="#222" stroke="#222" stroke-width="0.15" >Control</text>
<text x="238.75" y="625.00" font-size="7" text-anchor="middle" fill="#222" stroke="#222" stroke-width="0.15" >PV</text>
<polyline points="214.5,541 214.5,532.7 238.75,532.7 238.75,559" fill="none" stroke="#222" stroke-width="1"/>
<text x="226.62" y="530.70" font-size="6.3" text-anchor="middle" fill="#222" stroke="#222" stroke-width="0.15" >ns</text>
<text x="0.00" y="0.00" font-size="8.3" text-anchor="middle" fill="#2a2a2a" stroke="#2a2a2a" stroke-width="0.08" textLength="57.8" lengthAdjust="spacingAndGlyphs" font-style="italic" transform="translate(163.50,567.80) rotate(-90)">Liver Hamp1 mRNA</text>
<text x="0.00" y="0.00" font-size="8.3" text-anchor="middle" fill="#2a2a2a" stroke="#2a2a2a" stroke-width="0.08" textLength="25" lengthAdjust="spacingAndGlyphs" font-style="italic" transform="translate(174.00,569.10) rotate(-90)">(vs Hprt)</text>
<rect x="341" y="580.80" width="15" height="31.90" fill="#7284b4"/>
<rect x="366" y="574.87" width="14" height="37.83" fill="#e07768"/>
<circle cx="348.50" cy="556.23" r="1.15" fill="#1f4488"/>
<circle cx="348.50" cy="561.88" r="1.15" fill="#1f4488"/>
<circle cx="345.50" cy="573.17" r="1.15" fill="#1f4488"/>
<circle cx="351.50" cy="574.30" r="1.15" fill="#1f4488"/>
<circle cx="348.50" cy="583.34" r="1.15" fill="#1f4488"/>
<circle cx="343.50" cy="585.60" r="1.15" fill="#1f4488"/>
<circle cx="353.50" cy="586.16" r="1.15" fill="#1f4488"/>
<circle cx="348.50" cy="594.07" r="1.15" fill="#1f4488"/>
<circle cx="348.50" cy="598.58" r="1.15" fill="#1f4488"/>
<line x1="348.5" y1="594.63" x2="348.5" y2="566.40" stroke="#26385c" stroke-width="1.1"/>
<line x1="344.3" y1="594.63" x2="352.7" y2="594.63" stroke="#26385c" stroke-width="1.1"/>
<line x1="344.3" y1="566.40" x2="352.7" y2="566.40" stroke="#26385c" stroke-width="1.1"/>
<circle cx="373.00" cy="538.16" r="1.15" fill="#c01a32"/>
<circle cx="373.00" cy="559.06" r="1.15" fill="#c01a32"/>
<circle cx="376.00" cy="564.14" r="1.15" fill="#c01a32"/>
<circle cx="370.00" cy="568.66" r="1.15" fill="#c01a32"/>
<circle cx="373.00" cy="573.17" r="1.15" fill="#c01a32"/>
<circle cx="368.00" cy="575.43" r="1.15" fill="#c01a32"/>
<circle cx="378.00" cy="576.56" r="1.15" fill="#c01a32"/>
<circle cx="373.00" cy="581.08" r="1.15" fill="#c01a32"/>
<circle cx="369.00" cy="599.15" r="1.15" fill="#c01a32"/>
<circle cx="377.00" cy="599.71" r="1.15" fill="#c01a32"/>
<line x1="373.0" y1="591.81" x2="373.0" y2="555.95" stroke="#8e1530" stroke-width="1.1"/>
<line x1="368.8" y1="591.81" x2="377.2" y2="591.81" stroke="#8e1530" stroke-width="1.1"/>
<line x1="368.8" y1="555.95" x2="377.2" y2="555.95" stroke="#8e1530" stroke-width="1.1"/>
<line x1="331.8" y1="525.00" x2="331.8" y2="613.35" stroke="#1a1a1a" stroke-width="1.5"/>
<line x1="331.15000000000003" y1="612.7" x2="389" y2="612.7" stroke="#1a1a1a" stroke-width="1.5"/>
<line x1="329.0" y1="612.70" x2="331.8" y2="612.70" stroke="#1a1a1a" stroke-width="1"/>
<text x="325.40" y="615.00" font-size="6.8" text-anchor="end" fill="#222" stroke="#222" stroke-width="0.15" >0</text>
<line x1="329.0" y1="584.47" x2="331.8" y2="584.47" stroke="#1a1a1a" stroke-width="1"/>
<text x="325.40" y="586.77" font-size="6.8" text-anchor="end" fill="#222" stroke="#222" stroke-width="0.15" >500</text>
<line x1="329.0" y1="556.23" x2="331.8" y2="556.23" stroke="#1a1a1a" stroke-width="1"/>
<text x="325.40" y="558.53" font-size="6.8" text-anchor="end" fill="#222" stroke="#222" stroke-width="0.15" >1000</text>
<line x1="329.0" y1="528.00" x2="331.8" y2="528.00" stroke="#1a1a1a" stroke-width="1"/>
<text x="325.40" y="530.30" font-size="6.8" text-anchor="end" fill="#222" stroke="#222" stroke-width="0.15" >1500</text>
<line x1="348.5" y1="612.7" x2="348.5" y2="615.2" stroke="#1a1a1a" stroke-width="1"/>
<line x1="373.0" y1="612.7" x2="373.0" y2="615.2" stroke="#1a1a1a" stroke-width="1"/>
<text x="348.50" y="625.00" font-size="7" text-anchor="middle" fill="#222" stroke="#222" stroke-width="0.15" >Control</text>
<text x="373.00" y="625.00" font-size="7" text-anchor="middle" fill="#222" stroke="#222" stroke-width="0.15" >PV</text>
<polyline points="348.5,552.8 348.5,528.2 373.0,528.2 373.0,533.8" fill="none" stroke="#222" stroke-width="1"/>
<text x="360.75" y="526.20" font-size="6.3" text-anchor="middle" fill="#222" stroke="#222" stroke-width="0.15" >ns</text>
<text x="0.00" y="0.00" font-size="8.0" text-anchor="middle" fill="#2a2a2a" stroke="#2a2a2a" stroke-width="0.08" textLength="72.2" lengthAdjust="spacingAndGlyphs" font-style="italic" transform="translate(304.20,568.70) rotate(-90)">Serum hepcidin (ng/ml)</text>
<rect x="464.5" y="557.22" width="15.5" height="55.48" fill="#7284b4"/>
<rect x="489" y="564.00" width="15" height="48.70" fill="#e07768"/>
<circle cx="472.25" cy="542.82" r="1.15" fill="#1f4488"/>
<circle cx="472.25" cy="548.12" r="1.15" fill="#1f4488"/>
<circle cx="472.25" cy="559.76" r="1.15" fill="#1f4488"/>
<circle cx="468.25" cy="567.17" r="1.15" fill="#1f4488"/>
<circle cx="476.25" cy="567.17" r="1.15" fill="#1f4488"/>
<circle cx="472.25" cy="553.41" r="1.15" fill="#1f4488"/>
<line x1="472.25" y1="567.60" x2="472.25" y2="546.63" stroke="#26385c" stroke-width="1.1"/>
<line x1="468.05" y1="567.60" x2="476.45" y2="567.60" stroke="#26385c" stroke-width="1.1"/>
<line x1="468.05" y1="546.63" x2="476.45" y2="546.63" stroke="#26385c" stroke-width="1.1"/>
<circle cx="496.50" cy="537.53" r="1.15" fill="#c01a32"/>
<circle cx="496.50" cy="547.06" r="1.15" fill="#c01a32"/>
<circle cx="496.50" cy="559.76" r="1.15" fill="#c01a32"/>
<circle cx="496.50" cy="570.35" r="1.15" fill="#c01a32"/>
<circle cx="496.50" cy="576.70" r="1.15" fill="#c01a32"/>
<circle cx="496.50" cy="590.47" r="1.15" fill="#c01a32"/>
<line x1="496.5" y1="583.06" x2="496.5" y2="544.30" stroke="#8e1530" stroke-width="1.1"/>
<line x1="492.3" y1="583.06" x2="500.7" y2="583.06" stroke="#8e1530" stroke-width="1.1"/>
<line x1="492.3" y1="544.30" x2="500.7" y2="544.30" stroke="#8e1530" stroke-width="1.1"/>
<line x1="455.7" y1="525.00" x2="455.7" y2="613.35" stroke="#1a1a1a" stroke-width="1.5"/>
<line x1="455.05" y1="612.7" x2="513.5" y2="612.7" stroke="#1a1a1a" stroke-width="1.5"/>
<line x1="452.9" y1="612.70" x2="455.7" y2="612.70" stroke="#1a1a1a" stroke-width="1"/>
<text x="449.30" y="615.00" font-size="6.8" text-anchor="end" fill="#222" stroke="#222" stroke-width="0.15" >0</text>
<line x1="452.9" y1="591.53" x2="455.7" y2="591.53" stroke="#1a1a1a" stroke-width="1"/>
<text x="449.30" y="593.83" font-size="6.8" text-anchor="end" fill="#222" stroke="#222" stroke-width="0.15" >10</text>
<line x1="452.9" y1="570.35" x2="455.7" y2="570.35" stroke="#1a1a1a" stroke-width="1"/>
<text x="449.30" y="572.65" font-size="6.8" text-anchor="end" fill="#222" stroke="#222" stroke-width="0.15" >20</text>
<line x1="452.9" y1="549.17" x2="455.7" y2="549.17" stroke="#1a1a1a" stroke-width="1"/>
<text x="449.30" y="551.47" font-size="6.8" text-anchor="end" fill="#222" stroke="#222" stroke-width="0.15" >30</text>
<line x1="452.9" y1="528.00" x2="455.7" y2="528.00" stroke="#1a1a1a" stroke-width="1"/>
<text x="449.30" y="530.30" font-size="6.8" text-anchor="end" fill="#222" stroke="#222" stroke-width="0.15" >40</text>
<line x1="472.25" y1="612.7" x2="472.25" y2="615.2" stroke="#1a1a1a" stroke-width="1"/>
<line x1="496.5" y1="612.7" x2="496.5" y2="615.2" stroke="#1a1a1a" stroke-width="1"/>
<text x="472.25" y="625.00" font-size="7" text-anchor="middle" fill="#222" stroke="#222" stroke-width="0.15" >Control</text>
<text x="496.50" y="625.00" font-size="7" text-anchor="middle" fill="#222" stroke="#222" stroke-width="0.15" >PV</text>
<polyline points="472.25,539.5 472.25,528.2 496.5,528.2 496.5,533.1" fill="none" stroke="#222" stroke-width="1"/>
<text x="484.38" y="526.20" font-size="6.3" text-anchor="middle" fill="#222" stroke="#222" stroke-width="0.15" >ns</text>
<text x="0.00" y="0.00" font-size="8.0" text-anchor="middle" fill="#2a2a2a" stroke="#2a2a2a" stroke-width="0.08" textLength="62.2" lengthAdjust="spacingAndGlyphs" font-style="italic" transform="translate(436.20,569.00) rotate(-90)">Serum iron (µmol/L)</text>
<rect x="204" y="711.78" width="15.5" height="33.42" fill="#7284b4"/>
<rect x="228.5" y="705.44" width="15.0" height="39.76" fill="#e07768"/>
<circle cx="211.75" cy="727.43" r="1.15" fill="#1f4488"/>
<circle cx="211.75" cy="723.91" r="1.15" fill="#1f4488"/>
<circle cx="213.20" cy="721.39" r="1.15" fill="#1f4488"/>
<circle cx="210.30" cy="719.50" r="1.15" fill="#1f4488"/>
<circle cx="213.20" cy="717.91" r="1.15" fill="#1f4488"/>
<circle cx="210.30" cy="716.51" r="1.15" fill="#1f4488"/>
<circle cx="214.65" cy="715.21" r="1.15" fill="#1f4488"/>
<circle cx="211.75" cy="713.99" r="1.15" fill="#1f4488"/>
<circle cx="208.85" cy="712.80" r="1.15" fill="#1f4488"/>
<circle cx="214.65" cy="711.62" r="1.15" fill="#1f4488"/>
<circle cx="211.75" cy="710.43" r="1.15" fill="#1f4488"/>
<circle cx="208.85" cy="709.20" r="1.15" fill="#1f4488"/>
<circle cx="213.20" cy="707.90" r="1.15" fill="#1f4488"/>
<circle cx="210.30" cy="706.50" r="1.15" fill="#1f4488"/>
<circle cx="213.20" cy="704.92" r="1.15" fill="#1f4488"/>
<circle cx="210.30" cy="703.02" r="1.15" fill="#1f4488"/>
<circle cx="211.75" cy="700.51" r="1.15" fill="#1f4488"/>
<circle cx="214.65" cy="698.67" r="1.15" fill="#1f4488"/>
<circle cx="214.65" cy="692.33" r="1.15" fill="#1f4488"/>
<circle cx="211.75" cy="694.44" r="1.15" fill="#1f4488"/>
<line x1="211.75" y1="721.51" x2="211.75" y2="700.79" stroke="#26385c" stroke-width="1.1"/>
<line x1="207.55" y1="721.51" x2="215.95" y2="721.51" stroke="#26385c" stroke-width="1.1"/>
<line x1="207.55" y1="700.79" x2="215.95" y2="700.79" stroke="#26385c" stroke-width="1.1"/>
<circle cx="236.00" cy="721.94" r="1.15" fill="#c01a32"/>
<circle cx="236.00" cy="717.85" r="1.15" fill="#c01a32"/>
<circle cx="238.90" cy="715.53" r="1.15" fill="#c01a32"/>
<circle cx="236.00" cy="713.80" r="1.15" fill="#c01a32"/>
<circle cx="238.90" cy="712.36" r="1.15" fill="#c01a32"/>
<circle cx="234.55" cy="711.09" r="1.15" fill="#c01a32"/>
<circle cx="237.45" cy="709.93" r="1.15" fill="#c01a32"/>
<circle cx="240.35" cy="708.84" r="1.15" fill="#c01a32"/>
<circle cx="234.55" cy="707.80" r="1.15" fill="#c01a32"/>
<circle cx="237.45" cy="706.79" r="1.15" fill="#c01a32"/>
<circle cx="240.35" cy="705.78" r="1.15" fill="#c01a32"/>
<circle cx="234.55" cy="704.76" r="1.15" fill="#c01a32"/>
<circle cx="237.45" cy="703.72" r="1.15" fill="#c01a32"/>
<circle cx="240.35" cy="702.64" r="1.15" fill="#c01a32"/>
<circle cx="234.55" cy="701.48" r="1.15" fill="#c01a32"/>
<circle cx="237.45" cy="700.21" r="1.15" fill="#c01a32"/>
<circle cx="233.10" cy="698.77" r="1.15" fill="#c01a32"/>
<circle cx="236.00" cy="697.04" r="1.15" fill="#c01a32"/>
<circle cx="238.90" cy="694.71" r="1.15" fill="#c01a32"/>
<circle cx="234.55" cy="694.44" r="1.15" fill="#c01a32"/>
<circle cx="236.00" cy="681.75" r="1.15" fill="#c01a32"/>
<circle cx="238.90" cy="681.75" r="1.15" fill="#c01a32"/>
<circle cx="236.00" cy="690.21" r="1.15" fill="#c01a32"/>
<line x1="236.0" y1="714.74" x2="236.0" y2="695.71" stroke="#8e1530" stroke-width="1.1"/>
<line x1="231.8" y1="714.74" x2="240.2" y2="714.74" stroke="#8e1530" stroke-width="1.1"/>
<line x1="231.8" y1="695.71" x2="240.2" y2="695.71" stroke="#8e1530" stroke-width="1.1"/>
<line x1="195" y1="657.60" x2="195" y2="745.85" stroke="#1a1a1a" stroke-width="1.5"/>
<line x1="194.35" y1="745.2" x2="252" y2="745.2" stroke="#1a1a1a" stroke-width="1.5"/>
<line x1="192.2" y1="745.20" x2="195" y2="745.20" stroke="#1a1a1a" stroke-width="1"/>
<text x="188.60" y="747.50" font-size="6.8" text-anchor="end" fill="#222" stroke="#222" stroke-width="0.15" >0</text>
<line x1="192.2" y1="724.05" x2="195" y2="724.05" stroke="#1a1a1a" stroke-width="1"/>
<text x="188.60" y="726.35" font-size="6.8" text-anchor="end" fill="#222" stroke="#222" stroke-width="0.15" >500</text>
<line x1="192.2" y1="702.90" x2="195" y2="702.90" stroke="#1a1a1a" stroke-width="1"/>
<text x="188.60" y="705.20" font-size="6.8" text-anchor="end" fill="#222" stroke="#222" stroke-width="0.15" >1000</text>
<line x1="192.2" y1="681.75" x2="195" y2="681.75" stroke="#1a1a1a" stroke-width="1"/>
<text x="188.60" y="684.05" font-size="6.8" text-anchor="end" fill="#222" stroke="#222" stroke-width="0.15" >1500</text>
<line x1="192.2" y1="660.60" x2="195" y2="660.60" stroke="#1a1a1a" stroke-width="1"/>
<text x="188.60" y="662.90" font-size="6.8" text-anchor="end" fill="#222" stroke="#222" stroke-width="0.15" >2000</text>
<line x1="211.75" y1="745.2" x2="211.75" y2="747.7" stroke="#1a1a1a" stroke-width="1"/>
<line x1="236.0" y1="745.2" x2="236.0" y2="747.7" stroke="#1a1a1a" stroke-width="1"/>
<text x="211.75" y="757.50" font-size="7" text-anchor="middle" fill="#222" stroke="#222" stroke-width="0.15" >Control</text>
<text x="236.00" y="757.50" font-size="7" text-anchor="middle" fill="#222" stroke="#222" stroke-width="0.15" >PV</text>
<polyline points="211.75,690.2 211.75,672.8 236.0,672.8 236.0,677.5" fill="none" stroke="#222" stroke-width="1"/>
<text x="223.88" y="670.80" font-size="6.3" text-anchor="middle" fill="#222" stroke="#222" stroke-width="0.15" >ns</text>
<text x="0.00" y="0.00" font-size="8.0" text-anchor="middle" fill="#2a2a2a" stroke="#2a2a2a" stroke-width="0.08" textLength="28.8" lengthAdjust="spacingAndGlyphs" font-style="italic" transform="translate(157.00,701.60) rotate(-90)">Liver iron</text>
<text x="0.00" y="0.00" font-size="8.0" text-anchor="middle" fill="#2a2a2a" stroke="#2a2a2a" stroke-width="0.08" textLength="52.7" lengthAdjust="spacingAndGlyphs" font-style="italic" transform="translate(167.30,701.90) rotate(-90)">(µg/g dried liver)</text>
<rect x="336" y="702.70" width="15" height="42.50" fill="#7284b4"/>
<rect x="360.5" y="718.96" width="14.5" height="26.24" fill="#e07768"/>
<circle cx="343.50" cy="718.64" r="1.15" fill="#1f4488"/>
<circle cx="343.50" cy="714.05" r="1.15" fill="#1f4488"/>
<circle cx="343.50" cy="711.08" r="1.15" fill="#1f4488"/>
<circle cx="346.40" cy="708.79" r="1.15" fill="#1f4488"/>
<circle cx="343.50" cy="706.81" r="1.15" fill="#1f4488"/>
<circle cx="346.40" cy="704.98" r="1.15" fill="#1f4488"/>
<circle cx="343.50" cy="703.23" r="1.15" fill="#1f4488"/>
<circle cx="346.40" cy="701.48" r="1.15" fill="#1f4488"/>
<circle cx="343.50" cy="699.66" r="1.15" fill="#1f4488"/>
<circle cx="346.40" cy="697.68" r="1.15" fill="#1f4488"/>
<circle cx="343.50" cy="695.38" r="1.15" fill="#1f4488"/>
<circle cx="343.50" cy="692.41" r="1.15" fill="#1f4488"/>
<circle cx="346.40" cy="691.01" r="1.15" fill="#1f4488"/>
<circle cx="343.50" cy="683.58" r="1.15" fill="#1f4488"/>
<line x1="343.5" y1="712.79" x2="343.5" y2="691.01" stroke="#26385c" stroke-width="1.1"/>
<line x1="339.3" y1="712.79" x2="347.7" y2="712.79" stroke="#26385c" stroke-width="1.1"/>
<line x1="339.3" y1="691.01" x2="347.7" y2="691.01" stroke="#26385c" stroke-width="1.1"/>
<circle cx="367.75" cy="735.64" r="1.15" fill="#c01a32"/>
<circle cx="369.20" cy="733.02" r="1.15" fill="#c01a32"/>
<circle cx="367.75" cy="730.01" r="1.15" fill="#c01a32"/>
<circle cx="370.65" cy="727.72" r="1.15" fill="#c01a32"/>
<circle cx="367.75" cy="725.78" r="1.15" fill="#c01a32"/>
<circle cx="370.65" cy="724.02" r="1.15" fill="#c01a32"/>
<circle cx="367.75" cy="722.37" r="1.15" fill="#c01a32"/>
<circle cx="370.65" cy="720.76" r="1.15" fill="#c01a32"/>
<circle cx="367.75" cy="719.16" r="1.15" fill="#c01a32"/>
<circle cx="370.65" cy="717.50" r="1.15" fill="#c01a32"/>
<circle cx="367.75" cy="715.75" r="1.15" fill="#c01a32"/>
<circle cx="370.65" cy="713.80" r="1.15" fill="#c01a32"/>
<circle cx="367.75" cy="711.51" r="1.15" fill="#c01a32"/>
<circle cx="367.75" cy="708.51" r="1.15" fill="#c01a32"/>
<circle cx="367.75" cy="703.23" r="1.15" fill="#c01a32"/>
<circle cx="367.75" cy="692.08" r="1.15" fill="#c01a32"/>
<circle cx="367.75" cy="697.39" r="1.15" fill="#c01a32"/>
<line x1="367.75" y1="731.92" x2="367.75" y2="704.83" stroke="#8e1530" stroke-width="1.1"/>
<line x1="363.55" y1="731.92" x2="371.95" y2="731.92" stroke="#8e1530" stroke-width="1.1"/>
<line x1="363.55" y1="704.83" x2="371.95" y2="704.83" stroke="#8e1530" stroke-width="1.1"/>
<line x1="327" y1="657.20" x2="327" y2="745.85" stroke="#1a1a1a" stroke-width="1.5"/>
<line x1="326.35" y1="745.2" x2="384" y2="745.2" stroke="#1a1a1a" stroke-width="1.5"/>
<line x1="324.2" y1="745.20" x2="327" y2="745.20" stroke="#1a1a1a" stroke-width="1"/>
<text x="320.60" y="747.50" font-size="6.8" text-anchor="end" fill="#222" stroke="#222" stroke-width="0.15" >0</text>
<line x1="324.2" y1="723.95" x2="327" y2="723.95" stroke="#1a1a1a" stroke-width="1"/>
<text x="320.60" y="726.25" font-size="6.8" text-anchor="end" fill="#222" stroke="#222" stroke-width="0.15" >2000</text>
<line x1="324.2" y1="702.70" x2="327" y2="702.70" stroke="#1a1a1a" stroke-width="1"/>
<text x="320.60" y="705.00" font-size="6.8" text-anchor="end" fill="#222" stroke="#222" stroke-width="0.15" >4000</text>
<line x1="324.2" y1="681.45" x2="327" y2="681.45" stroke="#1a1a1a" stroke-width="1"/>
<text x="320.60" y="683.75" font-size="6.8" text-anchor="end" fill="#222" stroke="#222" stroke-width="0.15" >6000</text>
<line x1="324.2" y1="660.20" x2="327" y2="660.20" stroke="#1a1a1a" stroke-width="1"/>
<text x="320.60" y="662.50" font-size="6.8" text-anchor="end" fill="#222" stroke="#222" stroke-width="0.15" >8000</text>
<line x1="343.5" y1="745.2" x2="343.5" y2="747.7" stroke="#1a1a1a" stroke-width="1"/>
<line x1="367.75" y1="745.2" x2="367.75" y2="747.7" stroke="#1a1a1a" stroke-width="1"/>
<text x="343.50" y="757.50" font-size="7" text-anchor="middle" fill="#222" stroke="#222" stroke-width="0.15" >Control</text>
<text x="367.75" y="757.50" font-size="7" text-anchor="middle" fill="#222" stroke="#222" stroke-width="0.15" >PV</text>
<polyline points="343.5,680.7 343.5,673.3 367.75,673.3 367.75,689" fill="none" stroke="#222" stroke-width="1"/>
<text x="355.62" y="673.80" font-size="7.8" text-anchor="middle" fill="#111" stroke="#111" stroke-width="0.3">**</text>
<text x="0.00" y="0.00" font-size="8.0" text-anchor="middle" fill="#2a2a2a" stroke="#2a2a2a" stroke-width="0.08" textLength="37.1" lengthAdjust="spacingAndGlyphs" font-style="italic" transform="translate(289.00,701.90) rotate(-90)">Splenic iron</text>
<text x="0.00" y="0.00" font-size="8.0" text-anchor="middle" fill="#2a2a2a" stroke="#2a2a2a" stroke-width="0.08" textLength="60.4" lengthAdjust="spacingAndGlyphs" font-style="italic" transform="translate(299.30,701.30) rotate(-90)">(µg/g dried spleen)</text>
<rect x="0.5" y="0.5" width="519" height="766" fill="none" stroke="#555" stroke-width="1"/>
</svg>
</body></html>
